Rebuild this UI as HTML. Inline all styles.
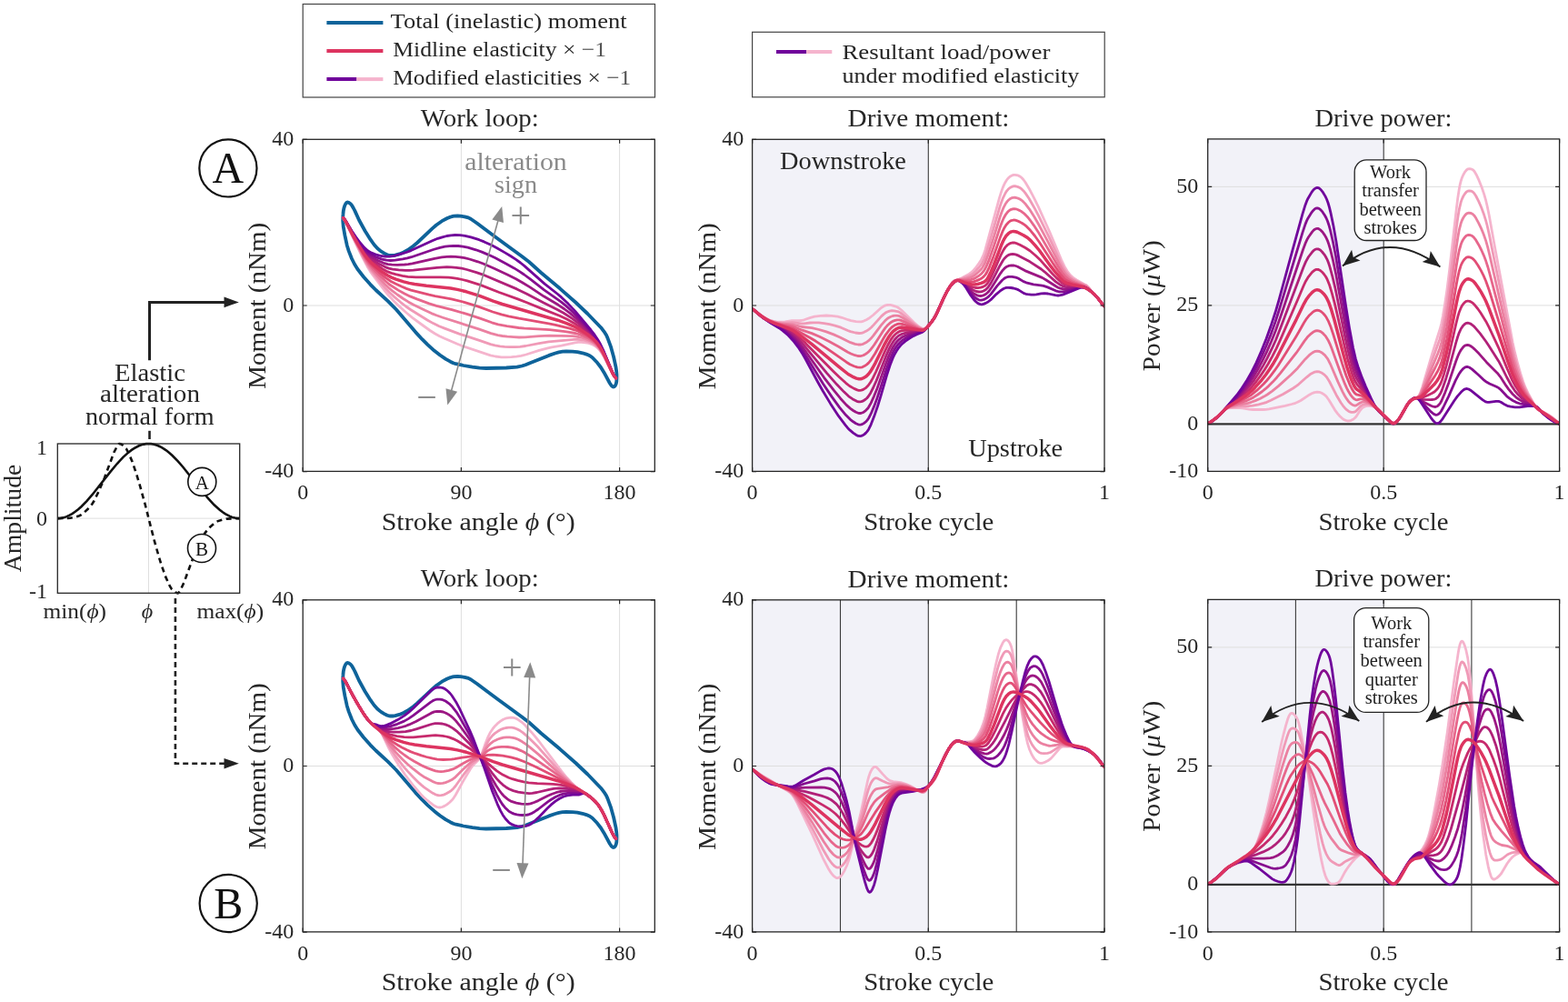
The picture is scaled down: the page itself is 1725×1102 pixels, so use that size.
<!DOCTYPE html><html><head><meta charset="utf-8"><title>Elastic alteration figure</title><style>html,body{margin:0;padding:0;background:#fff;}svg{display:block;}text{font-family:'Liberation Serif', 'DejaVu Serif', serif;}</style></head><body>
<svg width="1725" height="1102" viewBox="0 0 1725 1102">
<rect width="1725" height="1102" fill="#fff"/>
<defs>
<clipPath id="cwla"><rect x="333.2" y="153.3" width="387.1" height="365.1"/></clipPath>
<clipPath id="cwlb"><rect x="333.2" y="659.8" width="387.1" height="365.1"/></clipPath>
<clipPath id="cdma"><rect x="827.6" y="153.3" width="387.4" height="365.1"/></clipPath>
<clipPath id="cdmb"><rect x="827.6" y="659.8" width="387.4" height="365.1"/></clipPath>
<clipPath id="cpwa"><rect x="1328.7" y="152.9" width="386.9" height="365.5"/></clipPath>
<clipPath id="cpwb"><rect x="1328.7" y="659.4" width="386.9" height="365.5"/></clipPath>
</defs>
<g>
<path d="M507.4 153.3V518.4" stroke="#dedede" stroke-width="1"/>
<path d="M681.6 153.3V518.4" stroke="#dedede" stroke-width="1"/>
<path d="M333.2 336H720.3" stroke="#dedede" stroke-width="1"/>
<path d="M377.4 236L377.8 231.8L378.4 228.9L379.2 226.3L380.3 224L381.6 222.6L382.6 222.5L383.7 222.8L385.5 224L387 225.7L388.9 229L390.5 232.1L395 242L401.6 254L407.7 263.7L411.5 269L415.3 273.3L419.1 276.4L422.8 278.6L426 280.2L427.9 280.8L429.8 281L432 281L434.7 280.6L439.3 279.4L444 277.5L448.5 275L454.5 270.7L459 267L475.5 251.4L480 247.5L486.1 243.2L492 240L494.6 238.9L497 238.2L499.4 237.7L503.4 237.5L506.5 237.6L511.2 238.3L515.2 239.4L517.9 240.7L525.1 245.7L548.2 263.1L574.2 282L582 288L595.3 300L616 317.3L633.2 332.5L646.4 345L661.1 360.2L665.4 365.9L667 368.5L668.4 371.6L671.9 381.1L675.1 392.5L677.5 403.6L678.2 408.6L678.5 412.2L678.5 415.6L678.3 419.5L677.7 422.3L676.8 424.2L676 425.1L674.8 425.5L673.9 425.2L672.7 424.1L670.9 421.5L664.5 409.7L661 404L657 398.8L651.7 393.2L648.9 391.2L645.1 389.6L640.8 388.3L635.3 387.1L629.8 386.6L623 386.5L618.9 386.7L614.8 387.4L610.8 388.5L603.9 390.9L584.9 398.6L578.1 401.2L574.1 402.5L568.7 403.6L557 404.5L534.7 405L527.5 404.6L519.7 403.6L510 402L501.6 400.2L498.6 399.2L495.4 397.7L490.4 394.9L484 390.5L477.9 385.8L470.5 379.1L464.5 373.2L457 365.1L436 340.5L427 331.4L413.5 319L407.4 312.8L400 304.5L393.4 296L390 290.5L387 284.5L383.7 276.1L381.7 269.7L379.4 258.9L377.7 249.1L377.2 242.5L377.4 236" fill="none" stroke="#0e639a" stroke-width="3.8" stroke-linejoin="round"/>
<g fill="none" stroke-linejoin="round" stroke-linecap="round" clip-path="url(#cwla)"><path d="M377.6 240L379.1 242.1L381.1 245.8L388.6 262L398.1 281.6L404.1 293.2L407.1 298.1L410.1 302.5L422.6 319L427.6 325L432.6 330.4L439.6 337.2L447.1 344L453.6 349.3L466.1 358.5L473.1 363.5L478.6 367L483.6 369.7L489.1 372.3L503.1 378.3L508.1 380.3L539.6 390.8L545.1 392L551.6 392.8L556.6 392.9L562.6 392.7L568.1 392.1L573.1 391.3L578.6 390L593.1 385.4L602.6 382.8L607.1 381.8L617.6 380.1L632.6 376.9L636.1 376.4L639.6 376.4L644.1 376.8L647.6 377.4L651.1 378.6L654.6 380.5L657.6 382.9L660.1 385.6L662.6 389.2L665.1 393.5L674.1 411.5L676.1 414.5L677.6 416.1" stroke="#f5b4cd" stroke-width="2.8"/><path d="M377.6 239.9L379.1 242L381.1 245.6L390.1 264.5L399.1 282.3L402.6 288.9L405.1 293L408.1 297.4L417.6 309.5L423.6 316.5L428.6 321.8L433.6 326.4L440.6 332.3L446.6 337L451.6 340.5L470.1 352L476.6 355.6L483.1 358.7L489.1 361.1L505.1 367.1L528.1 374.6L539.6 378.6L544.6 379.9L550.1 380.9L555.1 381.4L560.6 381.6L566.6 381.6L572.1 381.3L578.1 380.5L593.1 377.6L603.6 375.9L631.6 373.4L635.1 373.4L638.6 373.7L643.1 374.4L646.6 375.3L650.6 376.9L654.1 378.9L657.1 381.4L660.1 384.8L662.6 388.5L665.1 393L674.1 411.3L676.1 414.4L677.6 416.1" stroke="#f09ab7" stroke-width="2.8"/><path d="M377.6 239.9L379.1 241.9L381.1 245.4L389.1 261.9L400.1 282.9L404.1 289.6L408.1 295.3L412.1 300.1L418.6 307.4L423.6 312.7L427.6 316.5L431.6 319.8L437.1 324L443.6 328.5L449.1 331.9L455.1 335.2L468.1 341.6L474.6 344.6L480.1 346.8L487.1 349.2L526.6 361.9L540.1 366.6L547.6 368.6L552.6 369.5L558.1 370.2L565.1 370.7L571.1 371L577.6 370.8L593.1 369.7L604.6 369.2L629.6 369.7L633.6 370L636.6 370.5L640.6 371.5L645.1 372.9L649.6 374.9L653.1 377L656.6 379.9L659.6 383.4L662.1 387.1L664.6 391.5L674.1 411.2L676.1 414.4L677.6 416" stroke="#eb81a1" stroke-width="2.8"/><path d="M377.6 239.8L379.1 241.8L380.6 244.3L389.1 261.3L398.6 278.8L402.6 285.6L406.1 290.6L409.1 294.2L413.1 298.6L418.6 304.1L423.6 308.8L427.1 311.8L430.1 314L438.1 319.1L445.1 323L451.1 325.9L458.6 328.9L472.1 333.9L480.1 336.3L497.1 340.6L513.6 345.4L528.1 350.1L541.1 354.8L548.1 356.8L557.6 358.7L570.6 360.5L577.1 361.1L591.6 361.8L604.6 362.6L621.6 364.6L633.1 366.5L636.6 367.5L641.1 369.2L646.6 371.6L651.1 374.3L655.1 377.4L658.6 381.2L661.1 384.8L664.1 390L674.1 411.1L676.1 414.3L677.6 416" stroke="#e7678c" stroke-width="2.8"/><path d="M377.6 239.8L379.1 241.7L380.6 244.2L388.6 259.8L396.6 274.1L401.1 281.6L404.6 286.7L407.1 289.8L409.6 292.5L417.1 299.6L424.1 305.4L430.1 309.5L435.1 312.1L442.1 315.3L447.1 317.4L452.1 319.1L472.1 324.2L478.6 325.6L496.6 328.8L510.6 332.3L526.1 337.1L542.1 343L551.6 345.9L559.6 347.8L571.1 350.2L603.6 355.8L611.1 357.3L626.6 361.1L632.1 362.8L636.1 364.3L643.6 368L649.1 371.4L653.6 374.9L657.6 379.1L660.6 383.3L663.1 387.6L666.6 394.6L673.6 410L675.6 413.5L677.6 416" stroke="#e24e76" stroke-width="2.8"/><path d="M377.6 239.7L379.1 241.5L380.6 243.9L388.1 257.8L393.1 266.3L399.6 276.5L403.6 281.9L407.6 286.1L413.1 290.5L420.6 295.7L426.6 298.9L430.6 300.4L435.1 301.7L442.6 303.3L448.6 304.3L457.6 304.8L484.1 304.9L493.6 305.2L498.1 305.6L503.1 306.4L508.6 307.5L514.1 308.8L529.1 313.6L549.1 321.5L569.6 328.9L579.6 332.7L597.6 340.1L615.6 347.3L623.6 351.1L631.6 355.4L638.1 359.6L647.6 366.9L653.1 371.9L657.1 376.6L660.1 380.9L662.6 385.4L666.1 392.6L673.6 409.7L675.6 413.3L677.6 415.9" stroke="#c72a6c" stroke-width="2.8"/><path d="M377.6 239.6L379.1 241.4L380.6 243.7L387.6 256.4L392.6 264.7L398.6 273.7L403.1 279.6L406.6 283.1L410.6 286.2L417.6 290.6L423.6 293.6L427.6 295.1L432.1 296.1L438.6 296.9L446.1 297.4L450.1 297.4L454.6 297.2L480.6 294.3L491.6 293.7L496.6 293.8L502.1 294.3L508.1 295.2L513.6 296.5L524.1 299.6L530.6 301.8L568.6 317.9L579.6 323.2L597.6 332.8L613.1 340.5L619.6 344L629.6 350.4L636.6 355.6L648.1 365.6L652.1 369.6L655.1 373L658.6 377.8L662.1 383.8L666.1 392.2L673.6 409.5L675.6 413.3L677.6 415.8" stroke="#b12178" stroke-width="2.8"/><path d="M377.6 239.6L379.1 241.3L380.6 243.6L387.6 255.9L392.1 263.1L398.1 271.8L402.6 277.4L406.1 280.7L410.1 283.5L416.6 287L422.1 289.3L426.6 290.6L431.1 291.2L437.1 291.3L445.1 291L449.1 290.6L453.6 289.8L478.1 284.3L486.1 282.9L491.6 282.3L496.1 282.1L501.1 282.3L506.1 282.8L511.1 283.7L516.6 285L525.6 287.8L531.6 290L543.1 295L558.6 302.3L567.6 306.8L574.6 310.7L583.1 315.9L598.1 325.8L614.1 335.3L621.1 340L627.6 344.9L633.6 349.9L638.6 354.5L647.6 363.4L651.6 367.6L654.6 371.2L657.6 375.3L660.1 379.4L662.6 384.1L665.1 389.5L673.6 409.4L675.6 413.2L677.6 415.8" stroke="#9c1783" stroke-width="2.8"/><path d="M377.6 239.5L379.1 241.2L380.6 243.4L387.1 254.6L391.6 261.7L397.1 269.2L401.6 274.7L405.1 278L408.6 280.3L414.1 282.9L420.1 285.1L425.1 286.2L429.6 286.5L434.6 286.2L443.1 284.9L448.1 283.9L452.6 282.7L476.6 274.5L484.1 272.3L489.6 271.2L494.6 270.6L499.1 270.4L504.1 270.5L509.1 271.1L514.6 272.2L523.6 274.8L530.1 277.1L537.1 280.1L544.6 283.6L557.1 290.2L565.6 294.9L571.6 298.6L576.6 302L583.6 307.2L598.6 318.9L617.1 331.8L622.1 335.9L628.1 341.2L633.1 346L637.6 350.7L647.1 361.1L651.6 366.3L655.6 371.4L658.6 376L661.1 380.5L664.1 386.7L674.1 410.3L676.1 413.9L677.6 415.8" stroke="#860e8f" stroke-width="2.8"/><path d="M377.6 239.5L379.1 241.1L380.6 243.3L387.1 254.2L391.6 260.9L396.6 267.5L401.1 272.6L404.6 275.7L408.1 277.9L413.1 279.9L419.1 281.5L424.1 282.2L428.6 282.1L433.6 281.3L441.6 279.2L447.1 277.5L452.1 275.6L475.6 264.8L481.6 262.3L486.6 260.8L491.6 259.5L496.1 258.8L500.6 258.5L506.1 258.6L511.6 259.3L518.1 260.9L527.1 263.7L532.6 265.9L541.1 269.8L546.6 272.7L555.1 277.6L561.6 281.5L567.6 285.4L572.6 289L577.1 292.6L599.1 312.1L613.6 323.5L617.6 326.9L625.1 334.1L633.1 342.6L650.1 363L654.1 368.2L657.6 373.5L660.6 378.8L663.6 385L674.1 410.2L676.1 413.8L677.6 415.7" stroke="#70049b" stroke-width="2.8"/><path d="M377.6 239.7L379.1 241.6L380.6 244L388.1 258.3L394.1 268.8L399.6 277.9L403.6 283.6L407.6 288.2L412.1 292.4L419.6 298.4L426.1 302.8L430.6 305.1L435.6 307.1L444.1 309.9L450.1 311.4L456.1 312.5L469.1 314.2L495.6 317L503.1 318.4L513.1 320.8L527.6 325.3L542.6 331.1L552.6 334.5L613.6 352.2L622.6 355.3L631.1 358.8L637.6 362.1L647.1 368.3L652.6 372.7L655.1 375.2L657.1 377.5L660.1 381.7L662.6 386L666.1 393.1L673.6 409.8L675.6 413.4L677.6 415.9" stroke="#dd3460" stroke-width="3.5"/></g>
<rect x="333.2" y="153.3" width="387.1" height="365.1" fill="none" stroke="#262626" stroke-width="1.3"/><path d="M333.2 518.4V513.9M333.2 153.3V157.8" stroke="#262626" stroke-width="1.2"/><path d="M507.4 518.4V513.9M507.4 153.3V157.8" stroke="#262626" stroke-width="1.2"/><path d="M681.6 518.4V513.9M681.6 153.3V157.8" stroke="#262626" stroke-width="1.2"/><path d="M333.2 153.3H337.7M720.3 153.3H715.8" stroke="#262626" stroke-width="1.2"/><path d="M333.2 336H337.7M720.3 336H715.8" stroke="#262626" stroke-width="1.2"/><path d="M333.2 518.7H337.7M720.3 518.7H715.8" stroke="#262626" stroke-width="1.2"/>
</g>
<rect x="827.6" y="153.3" width="193.7" height="365.1" fill="#f2f2f8"/>
<path d="M827.6 336H1215" stroke="#dedede" stroke-width="1"/>
<path d="M1021.3 153.3V518.4" stroke="#3a3a3a" stroke-width="1.1"/>
<g fill="none" stroke-linejoin="round" stroke-linecap="round" clip-path="url(#cdma)"><path d="M827.6 339.8L829.6 341L836.6 346.5L843.1 350.4L845.6 351.7L848.1 352.6L851.1 353.4L854.1 353.9L857.6 354.2L860.6 354.2L863.6 353.9L871.1 352.7L879.1 352.7L881.6 352.5L884.6 351.8L891.6 349.4L896.1 348.2L902.6 347.3L909.1 347L915.1 347.3L921.6 348.2L926.1 349.3L933.1 351.7L936.1 352.6L941.6 353.6L945.6 353.9L947.6 353.8L950.1 353.1L953.1 351.7L955.6 350.3L960.6 346.5L968.6 339.2L972.1 336.8L974.1 335.9L975.6 335.5L977.6 335.3L979.6 335.4L981.6 335.8L984.6 336.8L987.1 337.8L989.1 339L991.6 341L1005.1 354.3L1009.1 357.8L1012.1 359.9L1014.6 361.3L1015.6 361.6L1016.6 361.7L1018.1 361.2L1020.1 359.6L1023 356.4L1025.5 353.3L1028 349.5L1031 343.7L1036.5 331.3L1040 324L1042.5 319.3L1045 315.2L1046 313.1L1047.5 310.7L1048.5 309.6L1050 308.5L1055 307L1058 305.8L1066 301.4L1068.5 299.7L1070.5 297.9L1073 295L1077 289.5L1079.5 285.7L1082 280.4L1084 274.4L1099.5 217.6L1101.5 211.1L1103 206.9L1104.5 203.4L1106 200.4L1107.5 198L1109 196.1L1111 194.3L1113 193.1L1115 192.4L1116.5 192.3L1118.5 192.6L1120.5 193.2L1122.5 194.3L1124 195.5L1126 197.7L1128 200.5L1132 207.2L1138 218.7L1142.5 227.9L1154.5 254.5L1167.5 285.5L1171 292.9L1174 298L1177.5 302.5L1181 305.8L1184.5 308L1193 312.7L1195 313.6L1196.5 315L1199 317.8L1201 321.1L1203.5 323.3L1206 325.9L1209 329.5L1213 334.8L1215 336.8" stroke="#f5b4cd" stroke-width="2.8"/><path d="M827.6 339.8L829.6 341L836.1 346.2L841.6 349.8L846.6 352.3L851.6 353.9L855.6 354.6L859.6 355L862.6 355.1L871.6 354.7L881.6 356L884.6 355.9L891.1 355L894.6 354.8L900.6 354.9L906.6 355.6L912.6 356.6L918.6 358.1L925.1 360.2L932.6 363.5L935.6 364.6L941.1 366L945.1 366.5L947.6 366.3L950.1 365.6L953.1 364.1L956.1 362.1L958.6 360L961.1 357.4L969.6 347.9L972.1 345.6L974.1 344.1L976.1 343L978.6 342.1L981.1 341.7L983.6 341.8L987.6 342.6L990.6 344.1L1006.1 356.6L1011.1 360L1013.6 361.3L1015.1 361.8L1016.6 361.9L1017.6 361.6L1019.6 360.1L1023 356.4L1025.5 353.2L1028 349.5L1030.5 344.8L1036.5 331.3L1040.5 323L1046.5 312.4L1048 310.4L1049.5 309.1L1051 308.3L1059.5 306L1066 303.5L1069 302L1071 300.5L1073.5 298L1077.5 293.5L1080 290.1L1082.5 285.3L1085 278.4L1090 261.9L1100 227.4L1102 221.4L1103.5 217.6L1106 212.5L1107.5 210.1L1109 208.3L1110.5 206.9L1112.5 205.7L1114.5 204.9L1116 204.7L1118 205L1120 205.6L1122 206.5L1124 207.9L1126 209.9L1128 212.4L1132 218.3L1138 228.7L1142.5 237.2L1154 260.7L1166.5 287.8L1170.5 295.4L1173.5 300L1177 304L1179 305.8L1181 307.3L1184 309L1195 314.3L1197 316L1199 318.2L1201 321.1L1203.5 323.3L1206.5 326.5L1213 334.8L1215 336.8" stroke="#f09ab7" stroke-width="2.8"/><path d="M827.6 339.8L829.6 341L836.1 346.3L840.1 349L845.1 351.8L849.6 353.7L853.6 354.8L859.1 355.8L871.6 356.8L882.1 359.5L893.1 360.7L901.1 362.5L909.1 364.9L917.1 367.9L924.1 371L932.1 375.1L935.6 376.7L940.6 378.3L944.1 379L947.1 379L949.6 378.3L952.6 376.8L955.6 374.7L958.1 372.3L960.6 369.4L969.6 357.4L973.6 352.8L975.6 350.9L977.6 349.5L980.1 348.2L982.1 347.5L984.1 347.2L986.6 347.1L988.6 347.4L990.1 347.9L993.1 349.5L1006.1 358L1009.6 360L1014.1 362L1015.6 362.2L1017.1 362L1019.1 360.6L1022 357.5L1025.5 353.2L1028 349.5L1030.5 344.8L1036.5 331.3L1041 322L1046 313.4L1048 310.7L1050 309.1L1052 308.2L1054.5 307.7L1059.5 307.1L1063.5 306.3L1067 305.4L1069.5 304.4L1072.5 302.5L1076 299.5L1079 296.6L1081 294L1083.5 289.4L1087 280.3L1092.5 263.4L1100 239L1102 233.2L1104 228.4L1106.5 223.7L1108 221.6L1109.5 220L1111 218.8L1113 217.7L1114.5 217.3L1116 217.2L1118 217.5L1120 218.1L1122 219L1124 220.3L1126 222.1L1128.5 224.8L1132.5 230.1L1138 238.8L1142.5 246.5L1153 266.1L1165.5 290.4L1169.5 297.4L1172.5 301.7L1176 305.3L1180 308.2L1183 309.8L1189.5 312.5L1195 315L1197 316.6L1199 318.5L1201 321.1L1203.5 323.3L1206 325.9L1209 329.5L1213 334.8L1215 336.8" stroke="#eb81a1" stroke-width="2.8"/><path d="M827.6 339.8L829.6 341L835.1 345.6L839.1 348.5L844.1 351.5L848.1 353.4L852.1 354.8L856.6 356L861.6 357.1L868.6 358.2L871.6 358.9L874.6 360L882.6 363.2L893.1 366.6L901.6 370.3L912.1 375.4L922.6 381.2L932.6 387.3L936.1 389L940.6 390.7L943.6 391.5L946.6 391.6L949.1 391L951.1 390.1L953.6 388.5L955.6 386.9L957.1 385.3L959.6 382.2L962.1 378.7L970.6 365.4L974.1 360.4L976.1 358.1L978.6 355.7L980.6 354.2L982.6 353.1L984.6 352.4L987.1 351.8L989.1 351.8L990.6 352.1L996.1 354.4L1008.1 360.3L1011.6 361.7L1014.1 362.4L1015.6 362.5L1017.1 362.1L1018.1 361.5L1019.6 360.2L1024.5 354.5L1028 349.5L1030.5 344.8L1037 330.2L1041.5 321.1L1046 313.6L1048.5 310.6L1051 308.8L1053.5 308L1055.5 307.9L1060.5 308.2L1064.5 308L1068 307.6L1070.5 306.9L1073.5 305.4L1077.5 302.8L1080 300.7L1082 298.4L1083.5 296.1L1085 293.2L1088 286.1L1093 271.9L1100.5 249.1L1102.5 243.8L1104 240.3L1106.5 235.8L1108 233.8L1109.5 232.2L1111 231.1L1112.5 230.3L1114 229.8L1115.5 229.6L1117.5 229.8L1119.5 230.5L1122 231.6L1124 232.8L1126 234.3L1128.5 236.6L1130.5 238.7L1133 241.8L1137.5 248.1L1142 254.9L1164 292.7L1168.5 299.8L1171.5 303.7L1175 306.9L1179 309.4L1182.5 311L1191.5 314.2L1195 315.7L1197 317.2L1199 318.9L1201 321.1L1203 322.8L1205.5 325.3L1208.5 328.9L1213 334.8L1215 336.8" stroke="#e7678c" stroke-width="2.8"/><path d="M827.6 339.8L829.6 341.1L834.6 345.3L838.1 347.9L842.1 350.5L846.1 352.7L849.6 354.3L853.1 355.6L868.1 359.8L871.6 361L875.1 362.7L891.6 371.7L897.6 375.3L909.1 382.8L931.1 398.2L935.1 400.7L939.6 402.7L943.1 403.9L946.1 404.2L948.6 403.8L951.1 402.6L953.6 400.9L955.6 399.1L957.6 396.7L962.6 389L971.6 372.8L974.6 367.8L978.6 362.5L980.6 360.4L982.1 359.1L984.1 357.8L986.6 356.7L988.6 356.2L990.6 356.1L993.1 356.5L996.6 357.5L1007.6 361.2L1012.1 362.5L1015.1 362.8L1017.1 362.3L1019.1 360.7L1021.5 358.1L1025 353.9L1027.5 350.3L1030.5 344.8L1037 330.2L1042 320.2L1046 313.8L1047.5 311.9L1049 310.4L1051.5 308.8L1052.5 308.4L1054 308.2L1056 308.4L1060.5 309.4L1064.5 310L1068 310.1L1071 309.8L1074 308.9L1077.5 307.4L1080 306L1082 304.4L1084 302.1L1085.5 299.9L1088.5 293.6L1093 281.9L1101 259.4L1103 254.4L1104.5 251.3L1107 247.2L1109.5 244.5L1111 243.3L1112.5 242.6L1115 242L1117 242.2L1119 242.8L1122 244.1L1124.5 245.5L1127 247.2L1129.5 249.2L1133.5 253.3L1138.5 259.5L1143.5 266.5L1158 289L1163 296.4L1168 303.2L1171 306.5L1174 308.8L1177.5 310.6L1182 312.2L1191.5 314.9L1195 316.4L1197 317.7L1199.5 319.7L1205 324.8L1208.5 328.9L1213 334.8L1215 336.8" stroke="#e24e76" stroke-width="2.8"/><path d="M827.6 339.8L829.6 341.1L837.6 347.7L844.6 352.3L850.6 355.4L860.1 359.4L866.6 362.3L870.6 364.6L874.1 366.9L879.6 371.5L886.1 377.4L917.1 408.7L923.1 414.5L930.6 421.3L934.6 424.5L939.6 427.4L943.1 428.9L944.6 429.3L946.1 429.4L947.6 429.2L949.1 428.7L952.1 426.9L955.1 424L957.6 420.5L960.1 416.1L963.6 409L973.6 386.1L976.6 379.8L980.6 372.8L982.6 370.1L984.6 368L986.6 366.3L988.6 365L990.1 364.3L992.1 363.7L995.6 363.3L1000.1 363.2L1013.6 363.7L1016.1 363.2L1018.1 361.8L1020.1 359.8L1024.5 354.5L1026.5 351.8L1028.5 348.6L1031 343.7L1039 326L1042 320.2L1044 316.8L1045.5 314.6L1047.5 312.2L1049.5 310.3L1051 309.2L1053 308.5L1054 308.4L1055.5 308.7L1057.5 309.6L1067.5 314.9L1070.5 316L1073 316.5L1076 316.7L1079 316.2L1081.5 315.4L1084 314L1085.5 312.6L1086.5 311.4L1089.5 306.3L1093 299L1101 280.7L1104 274.9L1106 271.9L1108 269.7L1110 268.3L1112 267.4L1113.5 267L1115.5 267L1117 267.2L1119 267.9L1122 269.3L1128 272.5L1133 275.7L1139.5 281.3L1145 286.6L1157.5 300.7L1162 305.4L1167 310L1170 312.1L1172.5 313.2L1176 314L1181.5 314.7L1188.5 315.2L1191 315.6L1194.5 316.8L1198 318.9L1201.5 321.5L1205 324.8L1208.5 328.9L1213 334.8L1215 336.8" stroke="#c72a6c" stroke-width="2.8"/><path d="M827.6 339.8L829.6 341.1L837.1 347.5L842.6 351.3L849.1 355L858.6 359.5L864.1 362.4L869.1 365.5L873.6 368.9L878.6 373.6L884.1 379.4L909.6 410.3L920.6 422.8L928.6 431.1L933.6 435.8L938.1 438.9L942.6 441.3L944.6 441.8L946.1 441.9L947.6 441.7L949.1 441.2L952.1 439.3L953.6 438L955.1 436.3L957.6 432.4L960.6 426.5L964.1 418.7L974.6 391.9L978.1 383.9L980.1 380L982.1 376.6L984.1 373.8L986.6 371L988.6 369.3L990.1 368.4L992.1 367.4L994.1 366.8L997.6 365.9L1001.6 365.3L1014.1 364.1L1016.1 363.4L1018.1 361.9L1020.1 359.8L1025 353.8L1028.5 348.6L1031 343.7L1038.5 327.1L1041.5 321.1L1043.5 317.6L1045 315.3L1047 312.8L1049 310.7L1051 309.2L1052.5 308.6L1053.5 308.4L1055 308.6L1056.5 309.2L1061 312.1L1068.5 317.9L1071 319.3L1074 320.5L1077 321L1079.5 320.8L1082 320L1084.5 318.5L1087 316L1089.5 312.3L1092.5 306.8L1100 292.2L1103.5 286.3L1105 284.2L1107 282.2L1108.5 281.1L1110.5 280.1L1112 279.6L1114 279.4L1116 279.6L1118 280.1L1121 281.4L1133 287.8L1145.5 296L1149 298.8L1161.5 309.9L1165.5 312.7L1169 314.6L1171.5 315.4L1175 315.8L1190 315.5L1192.5 316L1195.5 317.3L1200 320.3L1204 323.8L1208 328.2L1213 334.8L1215 336.8" stroke="#b12178" stroke-width="2.8"/><path d="M827.6 339.8L829.6 341.1L835.6 346.4L840.6 350.1L848.1 354.8L858.1 360L862.6 362.6L868.6 366.9L873.6 371.2L878.6 376.6L883.6 382.7L906.6 415.3L917.6 429.7L924.6 438.2L931.1 445.4L935.6 449.4L938.6 451.5L941.6 453.3L944.1 454.3L946.1 454.5L947.6 454.3L949.1 453.7L950.6 452.9L952.6 451.3L954.1 449.8L955.6 447.8L958.1 443.4L961.6 435.6L965.1 426.9L974.6 399.9L977.6 392.1L981.1 384.3L982.6 381.5L984.6 378.4L986.6 375.8L989.1 373.3L991.1 371.8L993.6 370.3L997.6 368.6L1002.1 367.2L1006.6 366L1014.6 364.4L1016.6 363.3L1018.6 361.5L1025 353.8L1028.5 348.6L1031 343.7L1039 326L1042 320.2L1044 316.8L1046 313.9L1048 311.7L1050 309.9L1051.5 309L1053 308.5L1054.5 308.5L1056 309.1L1058 310.3L1062 313.6L1069 321L1071 322.6L1073 323.8L1075 324.8L1077 325.4L1078.5 325.5L1080.5 325.3L1082.5 324.6L1084.5 323.5L1086.5 321.8L1088 320.2L1091 316L1100.5 300.8L1103 297.4L1105 295.2L1107 293.6L1109.5 292.4L1112.5 291.9L1115.5 292L1117.5 292.5L1119.5 293.2L1127.5 297.6L1146.5 305.4L1150.5 307.7L1161.5 314.8L1164 316.2L1166.5 317.1L1170 317.9L1173.5 317.9L1177.5 317.5L1187 315.9L1189.5 315.7L1192 315.9L1194.5 316.7L1196.5 317.8L1199.5 319.9L1204 323.8L1208 328.2L1213 334.8L1215 336.8" stroke="#9c1783" stroke-width="2.8"/><path d="M827.6 339.8L829.6 341.1L836.6 347.3L841.1 350.6L848.6 355.3L858.1 360.7L862.6 363.7L868.1 368.1L873.1 373L878.1 378.9L883.1 385.8L905.6 422.3L915.1 436.4L923.6 448.1L930.6 456.6L935.1 461.1L938.6 463.8L941.6 465.7L944.1 466.8L946.1 467.1L947.6 466.9L949.1 466.3L950.6 465.4L952.6 463.7L954.1 462.1L955.6 460L958.1 455.2L961.6 446.9L965.1 437.4L968.6 427L975.1 406.4L978.6 396.5L982.1 388.2L983.6 385.3L985.6 382L987.6 379.3L990.1 376.6L992.6 374.5L995.1 372.8L999.6 370.3L1004.1 368.3L1007.6 367L1014.6 364.8L1016.6 363.5L1018.6 361.6L1025.5 353.1L1028.5 348.6L1031 343.7L1039 326L1042 320.2L1044 316.8L1046 313.9L1048 311.7L1050 309.9L1051.5 309L1053 308.5L1054.5 308.6L1056 309.2L1058 310.5L1060 312.3L1062 314.4L1068 322.5L1071 325.8L1073 327.5L1075 328.9L1077 329.8L1078.5 330.1L1080.5 330L1082.5 329.4L1085 328.1L1087 326.7L1090 323.6L1097 314.4L1102.5 308.2L1104.5 306.5L1106 305.5L1108 304.7L1110 304.3L1113.5 304.3L1117.5 305.1L1120 306L1126 309.6L1129 310.8L1137 312.9L1145 313.8L1148 314.4L1152.5 315.9L1161.5 319.8L1163.5 320.4L1165.5 320.8L1168.5 320.9L1172 320.5L1177.5 319.2L1188 316.1L1190 315.8L1192 315.9L1194 316.5L1196.5 317.8L1199.5 319.9L1202.5 322.4L1207 327L1213 334.8L1215 336.8" stroke="#860e8f" stroke-width="2.8"/><path d="M827.6 339.8L829.6 341.2L835.6 346.5L840.6 350.4L847.6 355L857.1 360.7L861.1 363.6L867.1 368.8L872.6 374.7L878.1 381.8L883.1 389.5L886.1 394.8L899.6 420L905.1 429.8L913.6 443.9L922.6 457.7L930.1 467.7L932.6 470.7L935.1 473.2L938.6 476.1L941.6 478.2L944.1 479.4L946.1 479.7L947.6 479.4L949.1 478.8L950.6 477.9L952.6 476.1L954.1 474.4L955.6 472.2L958.1 467.1L961.6 458.1L965.6 446.5L969.1 435.1L975.6 412.6L979.1 401.8L982.6 392.8L984.1 389.7L986.1 386.2L988.1 383.2L990.6 380.1L993.1 377.6L996.1 375.2L1000.6 372.1L1005.1 369.4L1008.1 367.9L1013.1 365.9L1015.1 364.9L1017.1 363.3L1019.1 361.1L1025.5 353.1L1028.5 348.6L1031 343.7L1038.5 327.1L1041.5 321.1L1043.5 317.6L1045 315.3L1047 312.8L1049 310.7L1051 309.2L1053 308.5L1054.5 308.6L1056.5 309.6L1058.5 311.2L1060.5 313.3L1062 315.3L1068 325L1071 329L1073 331.2L1075 333L1077 334.2L1078.5 334.7L1080 334.8L1082 334.4L1084.5 333.4L1087 332L1090 329.7L1096 323.6L1100 320.2L1104 317.5L1106 316.7L1107.5 316.4L1109.5 316.3L1112 316.5L1115 317L1118 317.8L1120.5 318.9L1126.5 322.6L1128.5 323.3L1130.5 323.7L1134.5 324.1L1137.5 324.1L1140 323.9L1145.5 322.8L1149 322.6L1153 323L1161 324.7L1164 325L1166.5 324.7L1169 324.1L1176.5 321.2L1187.5 316.6L1189.5 316L1191.5 315.9L1193.5 316.2L1196 317.4L1199 319.5L1202.5 322.4L1207 327L1213 334.8L1215 336.8" stroke="#70049b" stroke-width="2.8"/><path d="M827.6 339.8L829.6 341.1L834.6 345.3L838.1 348L842.1 350.7L846.1 353L852.1 355.7L868.1 361.5L871.1 362.8L874.1 364.5L884.1 371.6L892.6 378.1L922.6 403.1L933.1 411.5L937.6 414.1L942.1 416.1L945.1 416.8L946.6 416.8L948.1 416.5L950.6 415.4L953.1 413.7L955.6 411.2L957.6 408.6L960.1 404.5L963.1 399.1L972.6 379.7L975.6 374.1L978.1 370L980.1 367.2L982.1 364.9L984.1 363.2L986.1 361.8L988.1 360.7L990.1 360.2L992.1 360L998.6 360.7L1010.1 362.8L1014.6 363.2L1016.1 362.9L1017.1 362.5L1019.6 360.3L1024.5 354.5L1028 349.5L1031 343.7L1038 328.1L1042.5 319.3L1044.5 316L1046 313.9L1048 311.7L1050 309.9L1051.5 309L1052.5 308.6L1054.5 308.4L1056 308.8L1061 310.8L1064.5 311.9L1068.5 312.7L1072 312.9L1075.5 312.5L1079.5 311.4L1082.5 310.1L1084.5 308.6L1086 306.9L1087 305.3L1090 299.2L1093.5 290.8L1101.5 269.8L1103.5 265.3L1105 262.4L1107 259.3L1109.5 256.7L1111 255.6L1112.5 254.9L1115 254.4L1117 254.7L1119 255.3L1126 258.7L1130.5 261.5L1134 264.6L1139 270.1L1143.5 275.5L1156 292.9L1160.5 298.7L1166.5 305.7L1170 309.2L1172.5 310.8L1175 311.8L1180 313.2L1191 315.5L1194 316.7L1197 318.3L1201 321.1L1204.5 324.3L1208 328.2L1213 334.8L1215 336.8" stroke="#dd3460" stroke-width="3.5"/></g>
<rect x="827.6" y="153.3" width="387.4" height="365.1" fill="none" stroke="#262626" stroke-width="1.3"/><path d="M827.6 518.4V513.9M827.6 153.3V157.8" stroke="#262626" stroke-width="1.2"/><path d="M1021.3 518.4V513.9M1021.3 153.3V157.8" stroke="#262626" stroke-width="1.2"/><path d="M1215 518.4V513.9M1215 153.3V157.8" stroke="#262626" stroke-width="1.2"/><path d="M827.6 153.3H832.1M1215 153.3H1210.5" stroke="#262626" stroke-width="1.2"/><path d="M827.6 336H832.1M1215 336H1210.5" stroke="#262626" stroke-width="1.2"/><path d="M827.6 518.7H832.1M1215 518.7H1210.5" stroke="#262626" stroke-width="1.2"/>
<rect x="1328.7" y="152.9" width="193.5" height="365.5" fill="#f2f2f8"/>
<path d="M1328.7 335.9H1715.6" stroke="#dedede" stroke-width="1"/>
<path d="M1328.7 205.4H1715.6" stroke="#dedede" stroke-width="1"/>
<path d="M1522.2 152.9V518.4" stroke="#3a3a3a" stroke-width="1.1"/>
<path d="M1328.7 466.3H1715.6" stroke="#333" stroke-width="2.2"/>
<g fill="none" stroke-linejoin="round" stroke-linecap="round" clip-path="url(#cpwa)"><path d="M1328.7 465.3L1330.2 464.8L1331.7 464L1335.7 461.3L1340.7 457.2L1347.2 450.8L1348.7 449.8L1350.7 448.9L1354.2 448.5L1364.1 448.6L1367.1 448.9L1374.1 450.2L1378.1 450.5L1389.6 450.5L1392.6 450.3L1396.1 449.8L1413.6 446.4L1421.1 444.5L1425.1 443.3L1427.5 442.3L1431 440.5L1440.5 434.2L1443 432.8L1446 431.6L1449 431.1L1451.5 431.3L1454 432.3L1456.5 433.7L1458.5 435.4L1460 437.2L1462 440L1468.5 450.8L1471.5 454.9L1474 457.7L1476.5 460.1L1478.5 461.5L1480.5 462.4L1482.5 463L1484.5 462.9L1486.5 462.3L1489 461L1490.4 459.8L1491.9 458.2L1496.4 451.3L1498.4 448.9L1499.9 447.8L1501.9 446.9L1503.9 446.3L1505.9 446.2L1508.4 446.4L1510.9 447.2L1513.4 448.3L1515.4 449.6L1518.9 452.7L1527.9 462.3L1529.4 463.6L1530.9 464.6L1532.4 465.2L1533.9 465.1L1535.4 464.5L1536.9 463.2L1538.4 461.5L1540.4 458.6L1546.9 447.4L1549.9 443L1551.4 441.4L1553.4 439.8L1555.3 438.9L1557.8 438.1L1559.3 437.2L1560.8 435.5L1562.3 432.7L1564.8 425.7L1575.8 388.3L1584.3 361.5L1585.8 355.5L1587.3 347.9L1589.8 332.9L1591.8 319.5L1594.3 299.8L1602.3 229.4L1603.8 217.5L1605.3 207.7L1606.3 202.6L1607.3 198.7L1608.3 195.6L1609.8 192.2L1611.8 188.8L1613.3 187L1614.8 185.9L1616.8 185.6L1619.2 186.1L1620.7 187L1622.2 188.7L1624.2 192.2L1627.2 198.7L1630.2 206.2L1632.7 213.6L1634.7 220.7L1636.2 227L1638.2 236.8L1645.2 275.6L1664.2 377.1L1666.7 388.2L1669.7 400L1672.7 410.7L1675.7 420L1678.2 426.4L1681.2 432.7L1688.1 445.5L1690.6 449.2L1691.6 450.3L1693.1 451.3L1698.1 453.3L1704.6 456.9L1708.1 459.4L1714.1 464.5L1715.6 465.5" stroke="#f5b4cd" stroke-width="2.8"/><path d="M1328.7 465.3L1330.2 464.8L1331.7 464.1L1336.2 460.9L1340.7 457.2L1347.2 450.8L1348.7 449.6L1350.7 448.6L1353.7 448L1363.6 446.8L1367.1 446.6L1373.6 446.7L1378.1 446.2L1384.6 444.8L1390.1 443.4L1393.6 442.3L1398.1 440.3L1411.1 433.7L1422.6 427L1426 424.7L1428.5 422.8L1437.5 414.8L1441.5 411.6L1445.5 409.4L1447.5 408.8L1449 408.6L1451.5 408.9L1454.5 410.3L1457 412.1L1459.5 414.8L1462.5 419.5L1470 434.2L1475 442.7L1477.5 446.3L1479.5 448.7L1481.5 450.7L1483.5 452.2L1485 452.9L1486.5 453.3L1488.5 453.4L1489.9 453.2L1491.4 452.4L1492.4 451.6L1496.4 447.1L1498.4 445.6L1499.9 445L1501.9 444.6L1503.9 444.6L1505.9 444.9L1507.9 445.5L1510.4 446.5L1512.9 448L1515.4 449.7L1518.9 452.9L1527.4 461.8L1530.4 464.4L1531.9 465.1L1533.4 465.3L1534.9 464.8L1536.4 463.7L1537.9 462.1L1539.9 459.4L1547.4 446.6L1550.4 442.4L1551.9 440.9L1553.9 439.5L1555.3 438.8L1558.3 437.8L1559.3 437.3L1560.8 435.9L1562.3 433.6L1564.8 427.6L1575.3 397L1583.8 373.4L1585.8 366.2L1587.3 359.1L1589.8 345.2L1591.8 332.9L1594.3 314.7L1602.3 250.2L1603.8 239.3L1605.3 230.3L1607.3 221.9L1608.3 219.1L1609.8 215.8L1611.8 212.7L1613.3 211L1614.8 210.1L1616.3 209.8L1618.3 210.1L1620.2 211.1L1621.7 212.5L1623.7 215.5L1626.7 221.4L1629.7 228.2L1632.2 234.9L1634.7 242.8L1636.2 248.5L1638.2 257.4L1644.2 287.3L1652.2 325.5L1663.7 381.9L1666.2 392.3L1669.2 403.1L1672.2 412.9L1675.2 421.4L1677.7 427.4L1680.7 433.3L1688.1 445.6L1690.6 449.1L1691.6 450L1693.1 451.1L1698.1 453.5L1704.6 457.3L1708.6 460.2L1714.1 464.6L1715.6 465.6" stroke="#f09ab7" stroke-width="2.8"/><path d="M1328.7 465.4L1330.2 464.9L1331.7 464.1L1337.2 460.2L1341.2 456.8L1347.2 450.7L1348.7 449.5L1350.2 448.6L1353.2 447.5L1363.6 445L1373.1 443.3L1376.6 442.3L1381.1 440.6L1386.6 438.2L1390.6 436.1L1394.1 434L1399.6 430.1L1406.1 424.9L1420.1 412.2L1427.5 404.9L1436 394.9L1440 390.9L1442.5 388.9L1445 387.3L1447 386.4L1449 386.1L1451.5 386.5L1454.5 388.1L1457.5 390.6L1460 393.8L1461.5 396.3L1463.5 400.3L1472 420.1L1477 430.8L1479.5 435.5L1481.5 438.7L1483.5 441.4L1485.5 443.4L1487 444.6L1488.5 445.5L1489.9 446L1490.9 446.1L1492.4 445.7L1496.4 443L1498.4 442.2L1499.9 442.1L1501.4 442.2L1503.4 442.6L1505.4 443.3L1507.4 444.3L1509.9 445.8L1515.4 449.8L1518.9 453.1L1527.4 461.9L1530.4 464.4L1531.9 465.2L1533.4 465.4L1534.4 465.1L1535.9 464.2L1537.9 462.2L1539.9 459.4L1547.4 446.6L1550.4 442.4L1551.9 440.8L1553.9 439.4L1555.3 438.7L1558.3 437.8L1559.8 437L1561.3 435.7L1562.8 433.6L1564.8 429.6L1569.3 418.9L1581.8 388.7L1583.8 383.5L1585.8 376.9L1587.3 370.3L1591.8 346.2L1594.3 329.7L1602.3 271L1603.8 261.1L1605.3 252.9L1607.3 245.2L1608.3 242.5L1609.8 239.5L1611.3 237.2L1612.8 235.5L1614.3 234.5L1615.8 234.1L1618.3 234.5L1620.2 235.5L1621.7 236.9L1623.7 239.8L1626.7 245.3L1629.7 251.6L1632.2 257.7L1634.7 264.9L1636.7 271.9L1638.7 280.1L1663.7 389.2L1666.2 398.5L1669.2 408.1L1672.2 416.8L1675.2 424.3L1677.7 429.6L1680.7 434.7L1688.1 445.7L1690.6 448.9L1693.1 451L1698.6 454L1704.6 457.6L1708.6 460.5L1714.1 464.8L1715.6 465.6" stroke="#eb81a1" stroke-width="2.8"/><path d="M1328.7 465.4L1330.2 464.9L1332.2 463.8L1337.7 459.8L1341.7 456.3L1347.2 450.7L1350.2 448.4L1353.2 447L1365.1 442.6L1372.1 440.3L1375.6 438.8L1379.1 436.9L1383.6 434L1388.6 430.5L1392.1 427.7L1395.6 424.6L1400.1 420.1L1404.6 415.2L1408.6 410.4L1426 388.2L1429.5 383.3L1435 375.1L1438.5 370.6L1441.5 367.7L1444.5 365.3L1447 364L1449 363.7L1450.5 363.8L1452 364.3L1453.5 365.1L1455.5 366.7L1458.5 369.9L1461 373.9L1463 378.1L1465 383.1L1475 410.7L1479.5 422.2L1481.5 426.6L1483.5 430.5L1485.5 433.8L1487.5 436.5L1489.5 438.5L1491.4 439.6L1492.9 439.8L1496.4 438.9L1498.4 438.9L1500.9 439.6L1504.4 441.3L1508.4 444L1515.9 450.4L1527.4 461.9L1529.9 464.1L1531.4 465.1L1532.9 465.5L1533.9 465.4L1535.4 464.6L1537.4 462.8L1539.4 460.2L1541.9 456.2L1547.9 445.7L1550.9 441.7L1552.4 440.4L1554.4 439L1555.8 438.4L1558.8 437.6L1560.3 436.9L1561.8 435.8L1563.3 434L1564.8 431.5L1569.3 423L1578.8 404.5L1581.8 398.3L1583.8 393.6L1585.8 387.5L1587.3 381.6L1591.8 359.6L1594.3 344.7L1602.3 291.7L1603.8 282.9L1605.3 275.5L1607.3 268.5L1608.3 266L1609.8 263.2L1611.3 261.1L1612.8 259.5L1614.3 258.6L1615.8 258.4L1617.8 258.7L1619.7 259.6L1621.2 260.8L1623.2 263.3L1626.7 269.2L1629.7 275L1632.2 280.6L1634.7 287.1L1636.7 293.2L1638.7 300.3L1651.2 347.7L1660.2 383.3L1663.7 396.5L1666.2 404.6L1668.7 411.8L1671.7 419.5L1674.7 426.2L1677.2 430.9L1680.2 435.5L1687.6 445.2L1690.6 448.7L1693.6 451.1L1704.1 457.7L1713.6 464.6L1715.6 465.7" stroke="#e7678c" stroke-width="2.8"/><path d="M1328.7 465.5L1330.2 465L1332.2 463.9L1337.7 459.8L1341.7 456.3L1347.7 450.1L1350.2 448.1L1352.7 446.7L1371.1 437.6L1376.1 434.6L1382.6 429.4L1390.1 422.3L1393.6 418.5L1397.6 413.7L1402.1 407.7L1406.1 402L1425.5 370.7L1429 364.8L1434.5 355L1437.5 350.3L1440.5 346.7L1444 343.4L1446.5 341.8L1448 341.3L1449 341.2L1450.5 341.4L1452 341.9L1453.5 342.8L1455.5 344.5L1457.5 346.7L1459 348.8L1461.5 353.4L1464 359.6L1467 368.5L1476.5 399.6L1481 413.2L1485 423.1L1487 427.2L1489 430.5L1490.4 432.4L1491.9 433.6L1493.4 434.2L1496.4 434.8L1498.4 435.5L1500.9 437L1504.4 439.6L1507.4 442.3L1527.9 462.3L1530.4 464.5L1531.9 465.3L1532.9 465.6L1533.9 465.4L1535.4 464.7L1537.4 462.8L1539.4 460.2L1541.9 456.2L1547.9 445.7L1549.4 443.5L1550.9 441.7L1552.9 439.9L1554.8 438.7L1556.3 438.1L1559.8 437.4L1561.3 436.8L1562.8 435.7L1564.3 434.1L1570.3 425.7L1578.3 413.9L1581.3 408.8L1583.8 403.7L1585.8 398.2L1587.3 392.8L1591.8 373L1594.3 359.6L1602.3 312.5L1603.8 304.6L1605.3 298L1607.3 291.7L1608.3 289.5L1609.8 286.9L1611.3 284.9L1612.8 283.5L1613.8 282.9L1615.3 282.6L1617.3 282.9L1619.7 284.1L1621.2 285.3L1623.2 287.7L1626.2 292.2L1629.2 297.4L1632.2 303.4L1634.7 309.2L1638.2 319L1649.7 356.3L1659.7 390.7L1663.7 403.8L1665.7 409.5L1668.2 415.7L1671.2 422.5L1673.7 427.4L1676.7 432.5L1679.7 436.5L1687.6 445.4L1691.1 449L1695.1 452.1L1705.1 458.7L1713.6 464.7L1715.6 465.8" stroke="#e24e76" stroke-width="2.8"/><path d="M1328.7 465.6L1330.2 465.1L1331.7 464.3L1337.2 460.3L1341.7 456.4L1347.7 450L1350.2 447.7L1361.6 439.3L1371.1 431.5L1374.6 428.2L1378.1 424.4L1382.1 419.5L1386.1 414.1L1391.1 406.7L1395.1 400.2L1399.6 392.1L1404.1 383.3L1409.1 372.3L1428 328.8L1434 314.5L1436.5 309.2L1439.5 304.3L1443.5 299.4L1445 298.1L1446.5 297L1448 296.4L1449 296.3L1450.5 296.5L1452.5 297.5L1454.5 299.2L1456.5 301.5L1458.5 304.3L1460 307L1462.5 313.2L1465.5 323.1L1468.5 334.4L1479 380.2L1482.5 394.3L1487 409.7L1489 415.2L1490.4 418.6L1492.9 422.7L1499.9 430.6L1512.9 447.5L1520.9 455.7L1528.9 463.3L1530.9 465L1532.4 465.6L1533.9 465.6L1535.4 464.8L1537.4 462.9L1538.9 461L1540.9 458L1548.4 444.8L1550.4 442.2L1552.9 439.8L1554.8 438.5L1556.8 437.8L1558.8 437.6L1562.3 437.8L1564.3 437.5L1571.3 434.5L1575.8 432.3L1578.3 430.7L1580.8 428.3L1582.8 425.7L1584.8 422L1586.3 418.3L1588.3 412.1L1591.3 401.6L1594.3 389.5L1601.8 356.1L1603.8 348.2L1605.3 343.2L1607.3 338.3L1608.3 336.4L1609.8 334.3L1611.3 332.6L1612.3 331.8L1613.3 331.3L1614.8 331L1616.8 331.4L1618.8 332.3L1620.7 333.7L1622.7 335.8L1625.7 339.5L1628.7 343.7L1634.7 353.4L1638.2 360.1L1649.2 383.6L1658.2 405.8L1663.2 417.3L1667.2 424.8L1671.7 431.6L1674.7 435.3L1678.2 438.7L1690.1 447.7L1697.1 453.7L1709.6 462.5L1713.6 465.1L1715.6 466" stroke="#c72a6c" stroke-width="2.8"/><path d="M1328.7 465.7L1330.7 464.9L1332.7 463.7L1339.2 458.7L1342.2 455.9L1350.2 447.5L1360.7 438.7L1367.1 432.6L1372.1 427.4L1376.1 422.7L1380.1 417.3L1384.6 410.4L1389.6 402.1L1394.1 393.9L1399.1 383.7L1403.6 373.7L1408.6 361.1L1434 293.8L1436.5 287.9L1439.5 282.5L1443.5 277.3L1445 275.7L1446.5 274.6L1448 273.9L1449 273.8L1450.5 274L1452.5 275.1L1454.5 277L1457 280.1L1458.5 282.5L1460 285.3L1461.5 289L1463 293.6L1466 304.6L1469 317.3L1479.5 369.1L1483 385.1L1487.5 402.7L1489.5 409.1L1490.9 413L1492.4 416.1L1494.4 419.5L1512.4 446.7L1514.9 449.7L1518.4 453.4L1529.4 463.8L1530.9 465L1532.4 465.7L1533.9 465.7L1535.4 464.9L1537.4 463L1538.9 461L1540.9 458L1546.9 447.3L1548.9 444L1551.4 441L1554.4 438.7L1556.3 437.8L1558.3 437.6L1559.8 437.8L1563.3 439L1565.3 439.4L1573.8 439.6L1576.3 439.5L1578.3 439.1L1579.8 438.4L1581.3 437.2L1582.8 435.6L1584.8 432.4L1586.3 429.1L1590.8 416.2L1594.3 404.5L1601.8 376.6L1603.8 370L1605.3 365.8L1607.3 361.5L1609.8 357.9L1611.3 356.5L1612.3 355.8L1613.3 355.4L1614.8 355.2L1616.3 355.5L1618.3 356.4L1620.2 357.8L1622.2 359.6L1628.2 366.6L1634.7 375.5L1638.2 380.7L1648.7 397.2L1651.7 402.8L1657.7 415L1662.7 424L1666.2 429.3L1670.2 434.1L1673.2 437.1L1676.7 439.8L1690.1 447.6L1692.1 449.2L1697.6 454.3L1704.1 459.1L1711.6 464.1L1714.1 465.5L1715.6 466.1" stroke="#b12178" stroke-width="2.8"/><path d="M1328.7 465.7L1330.7 464.9L1333.2 463.3L1336.7 460.7L1340.2 457.8L1343.2 454.9L1350.2 447.2L1359.2 438.8L1363.6 434.2L1369.6 427.3L1374.6 420.8L1379.1 414.1L1383.6 406.5L1389.1 396.2L1393.6 386.9L1398.6 375.5L1403.1 364.3L1408.1 350.3L1433.5 274.5L1436.5 266.6L1438 263.4L1439.5 260.7L1443.5 255.1L1445 253.4L1446.5 252.2L1448 251.5L1449 251.3L1450 251.4L1451 251.8L1453 253.2L1455 255.3L1457.5 258.9L1459 261.5L1460.5 264.8L1462 269.1L1463.5 274.2L1466.5 286.4L1469.5 300.6L1480 358.5L1483.5 376.3L1488 396.2L1489.5 401.7L1491.4 407.7L1494.4 414.6L1499.9 424.9L1509.4 441.8L1512.4 446.6L1514.9 449.8L1517.9 453L1530.4 464.7L1531.9 465.6L1533.4 465.9L1534.9 465.3L1536.9 463.5L1538.4 461.8L1540.4 458.8L1547.4 446.4L1549.4 443.3L1550.9 441.5L1552.4 440.1L1554.4 438.6L1555.8 437.9L1557.8 437.5L1559.8 438L1566.3 442.2L1574.3 446.3L1576.8 447.2L1578.3 447.5L1579.8 447.3L1581.3 446.7L1582.8 445.4L1584.3 443.6L1585.8 441L1589.8 431.6L1593.8 420.9L1601.8 397L1603.8 391.8L1605.3 388.4L1607.3 384.8L1609.8 381.6L1611.3 380.3L1612.3 379.8L1614.3 379.3L1615.8 379.6L1617.8 380.5L1619.7 381.8L1621.7 383.6L1627.2 389.1L1635.2 398.2L1647.2 410.2L1650.7 414.6L1656.7 423.9L1659.7 428.1L1664.2 433.5L1667.7 436.8L1671.2 439.4L1674.7 441.4L1687.6 446.2L1690.1 447.5L1692.1 449L1697.6 454.5L1702.6 458.4L1710.1 463.4L1713.6 465.4L1715.6 466.1" stroke="#9c1783" stroke-width="2.8"/><path d="M1328.7 465.8L1330.7 465L1333.7 463L1337.2 460.4L1340.7 457.4L1343.7 454.3L1350.2 447L1361.6 434.7L1367.6 427.3L1373.1 419.5L1378.1 411.3L1382.6 403L1388.1 391.6L1393.1 380.2L1398.1 367.7L1403.1 353.8L1407.6 339.8L1433 255.6L1436 246.6L1437.5 242.9L1439 239.9L1443 233.6L1444.5 231.7L1446 230.2L1447.5 229.2L1449 228.9L1450 229L1451 229.3L1453 230.8L1455 233.2L1457.5 237L1459 239.7L1460.5 243.2L1462 247.7L1463.5 253.2L1466.5 266.3L1469.5 281.7L1480.5 348.5L1485 373.5L1489 392.3L1490.4 398L1492.4 404.3L1495.4 412L1500.4 423.1L1508.9 440.2L1511.9 445.6L1514.4 449.3L1517.4 452.7L1529.9 464.3L1531.4 465.5L1532.9 466L1534.4 465.6L1536.4 464.1L1538.4 461.8L1540.4 458.8L1547.4 446.4L1549.9 442.6L1551.4 440.9L1553.4 439.2L1555.3 438L1556.8 437.5L1557.8 437.4L1558.8 437.6L1560.8 438.9L1566.3 444.8L1574.3 452.9L1576.8 455L1578.3 455.9L1579.8 456.3L1581.3 456.1L1582.8 455.3L1583.8 454.4L1585.3 452.5L1587.8 448L1593.8 435.6L1601.3 418.4L1604.8 411.8L1607.3 408.1L1609.8 405.3L1611.8 403.9L1613.8 403.4L1614.8 403.5L1616.3 404L1619.2 405.9L1626.7 412.5L1632.7 418.2L1635.2 420.1L1638.7 422L1646.2 425.2L1648.7 426.6L1651.2 428.8L1657.7 435.8L1660.7 438.2L1664.2 440.5L1668.2 442.6L1671.7 443.8L1686.6 446.2L1688.6 446.7L1690.1 447.3L1692.1 448.8L1697.6 454.7L1703.1 459.1L1706.6 461.6L1710.1 463.7L1713.6 465.5L1715.6 466.2" stroke="#860e8f" stroke-width="2.8"/><path d="M1328.7 465.8L1330.7 465L1334.2 462.7L1338.2 459.6L1341.7 456.4L1345.7 452.1L1360.7 434.5L1366.1 427.1L1372.1 417.7L1377.1 408.9L1382.1 398.8L1387.6 386.2L1393.1 372.4L1398.1 358.6L1403.1 343.3L1407.1 329.6L1422.1 274.6L1433 235.2L1436 225.4L1437.5 221.4L1439 218.2L1443 211.4L1444.5 209.4L1446 207.8L1447.5 206.8L1449 206.4L1450 206.5L1451 206.9L1453 208.5L1455.5 211.7L1458 215.9L1459.5 219L1461 223L1462.5 228.2L1464 234.4L1467 248.7L1470 265.8L1480.5 335.9L1484.5 360.6L1488.5 382.3L1491.4 394.9L1494.4 404.6L1498.4 415.4L1502.4 425.1L1508.4 438.4L1510.9 443.6L1513.4 447.9L1515.9 451.2L1518.9 454.3L1530.9 465.2L1531.9 465.8L1532.9 466L1534.4 465.7L1535.4 465.1L1536.9 463.6L1539.4 460.4L1541.9 456.3L1547.4 446.3L1549.9 442.6L1551.9 440.4L1554.4 438.5L1556.3 437.5L1557.8 437.3L1558.8 437.6L1559.8 438.3L1561.8 440.5L1573.8 458.8L1576.8 462.8L1578.3 464.3L1579.8 465.3L1581.3 465.6L1582.3 465.4L1583.3 464.9L1584.3 464.1L1586.3 461.7L1599.8 440.7L1603.3 435.9L1607.3 431.3L1609.8 429L1611.8 427.8L1613.8 427.5L1615.8 428.1L1617.8 429.2L1631.2 439.9L1633.2 441.2L1635.2 442.1L1636.7 442.3L1638.2 442.3L1645.7 441.3L1648.7 441.4L1651.2 442.3L1655.7 445.1L1658.2 446.3L1661.7 447.2L1666.7 447.8L1671.7 447.9L1680.7 446.7L1687.1 446.6L1689.6 447L1690.6 447.4L1692.1 448.6L1697.6 454.8L1703.6 459.8L1707.1 462.3L1710.1 464L1713.1 465.5L1715.6 466.3" stroke="#70049b" stroke-width="2.8"/><path d="M1328.7 465.5L1330.2 465L1332.2 463.9L1338.2 459.5L1341.7 456.3L1347.7 450.1L1350.7 447.6L1362.6 440.2L1370.1 435.3L1374.1 432.3L1377.1 429.7L1380.6 426.2L1388.1 417.8L1392.6 412L1396.6 406.3L1401.1 399.2L1405.1 392.3L1426 351.6L1434.5 334.1L1437 329.6L1440 325.4L1443.5 321.6L1445 320.4L1446.5 319.4L1448 318.9L1449 318.7L1450.5 318.9L1452.5 319.8L1454 321L1456 322.9L1458 325.4L1459.5 327.8L1462 333.1L1464.5 340.3L1468 352L1478 390.1L1482 404.2L1484.5 411.8L1486.5 417.2L1488.5 421.8L1489.9 424.7L1491.4 426.9L1492.9 428.4L1497.9 431.8L1502.4 435.9L1505.9 439.6L1513.4 448.1L1529.4 463.8L1530.9 464.9L1532.4 465.6L1533.4 465.6L1534.9 465.1L1536.9 463.4L1539.4 460.3L1541.9 456.2L1547.9 445.7L1549.4 443.4L1550.9 441.6L1552.9 439.9L1555.3 438.4L1557.3 437.8L1561.8 437.1L1563.3 436.5L1564.8 435.4L1570.8 429.8L1577.8 422.8L1580.8 419L1583.3 414.9L1585.3 410.3L1586.8 405.8L1591.3 388.5L1594.3 374.6L1602.3 333.3L1603.8 326.4L1605.3 320.6L1607.3 315L1608.3 313L1609.8 310.6L1611.3 308.8L1612.8 307.5L1613.8 307L1615.3 306.8L1617.3 307.2L1619.7 308.5L1621.2 309.7L1623.2 312L1626.2 316.2L1629.2 320.9L1632.2 326.3L1634.7 331.3L1638.2 339.6L1649.2 369.1L1658.7 397.2L1663.7 411.1L1665.7 415.8L1668.2 421.1L1670.7 425.8L1673.2 430L1676.2 434.3L1679.7 438.2L1692.6 450.1L1699.6 455.3L1713.1 464.6L1715.6 465.9" stroke="#dd3460" stroke-width="3.5"/></g>
<rect x="1328.7" y="152.9" width="386.9" height="365.5" fill="none" stroke="#262626" stroke-width="1.3"/><path d="M1328.7 518.4V513.9M1328.7 152.9V157.4" stroke="#262626" stroke-width="1.2"/><path d="M1522.2 518.4V513.9M1522.2 152.9V157.4" stroke="#262626" stroke-width="1.2"/><path d="M1715.6 518.4V513.9M1715.6 152.9V157.4" stroke="#262626" stroke-width="1.2"/><path d="M1328.7 205.4H1333.2M1715.6 205.4H1711.1" stroke="#262626" stroke-width="1.2"/><path d="M1328.7 335.9H1333.2M1715.6 335.9H1711.1" stroke="#262626" stroke-width="1.2"/><path d="M1328.7 466.3H1333.2M1715.6 466.3H1711.1" stroke="#262626" stroke-width="1.2"/><path d="M1328.7 518.5H1333.2M1715.6 518.5H1711.1" stroke="#262626" stroke-width="1.2"/>
<text x="527.8" y="138.7" font-size="26.4" text-anchor="middle" fill="#262626" textLength="130" lengthAdjust="spacingAndGlyphs">Work loop:</text>
<text x="1021.5" y="139" font-size="26.4" text-anchor="middle" fill="#262626" textLength="178" lengthAdjust="spacingAndGlyphs">Drive moment:</text>
<text x="1522" y="138.5" font-size="26.4" text-anchor="middle" fill="#262626" textLength="151" lengthAdjust="spacingAndGlyphs">Drive power:</text>
<text x="323.3" y="159.8" font-size="24" text-anchor="end" fill="#262626">40</text>
<text x="818.2" y="159.8" font-size="24" text-anchor="end" fill="#262626">40</text>
<text x="323.3" y="342.5" font-size="24" text-anchor="end" fill="#262626">0</text>
<text x="818.2" y="342.5" font-size="24" text-anchor="end" fill="#262626">0</text>
<text x="323.3" y="525.2" font-size="24" text-anchor="end" fill="#262626">-40</text>
<text x="818.2" y="525.2" font-size="24" text-anchor="end" fill="#262626">-40</text>
<text x="1318.2" y="211.9" font-size="24" text-anchor="end" fill="#262626">50</text>
<text x="1318.2" y="342.4" font-size="24" text-anchor="end" fill="#262626">25</text>
<text x="1318.2" y="472.8" font-size="24" text-anchor="end" fill="#262626">0</text>
<text x="1318.2" y="525" font-size="24" text-anchor="end" fill="#262626">-10</text>
<text x="333.2" y="549.2" font-size="24" text-anchor="middle" fill="#262626">0</text>
<text x="507.4" y="549.2" font-size="24" text-anchor="middle" fill="#262626">90</text>
<text x="681.6" y="549.2" font-size="24" text-anchor="middle" fill="#262626">180</text>
<text x="827.6" y="549.2" font-size="24" text-anchor="middle" fill="#262626">0</text>
<text x="1021.3" y="549.2" font-size="24" text-anchor="middle" fill="#262626">0.5</text>
<text x="1215" y="549.2" font-size="24" text-anchor="middle" fill="#262626">1</text>
<text x="1328.7" y="549.2" font-size="24" text-anchor="middle" fill="#262626">0</text>
<text x="1522.2" y="549.2" font-size="24" text-anchor="middle" fill="#262626">0.5</text>
<text x="1715.6" y="549.2" font-size="24" text-anchor="middle" fill="#262626">1</text>
<text x="526.2" y="582.6" font-size="26.4" text-anchor="middle" fill="#262626" textLength="213" lengthAdjust="spacingAndGlyphs">Stroke angle <tspan font-style="italic">ϕ</tspan> (°)</text>
<text x="1021.8" y="582.6" font-size="26.4" text-anchor="middle" fill="#262626" textLength="143" lengthAdjust="spacingAndGlyphs">Stroke cycle</text>
<text x="1522" y="582.6" font-size="26.4" text-anchor="middle" fill="#262626" textLength="143" lengthAdjust="spacingAndGlyphs">Stroke cycle</text>
<text x="292" y="336.3" font-size="26.4" text-anchor="middle" fill="#262626" transform="rotate(-90 292 336.3)" textLength="183" lengthAdjust="spacingAndGlyphs">Moment (nNm)</text>
<text x="787" y="336.8" font-size="26.4" text-anchor="middle" fill="#262626" transform="rotate(-90 787 336.8)" textLength="183" lengthAdjust="spacingAndGlyphs">Moment (nNm)</text>
<text x="1276" y="336.2" font-size="26.4" text-anchor="middle" fill="#262626" transform="rotate(-90 1276 336.2)" textLength="144" lengthAdjust="spacingAndGlyphs">Power (<tspan font-style="italic">μ</tspan>W)</text>
<g>
<path d="M507.4 659.8V1024.9" stroke="#dedede" stroke-width="1"/>
<path d="M681.6 659.8V1024.9" stroke="#dedede" stroke-width="1"/>
<path d="M333.2 842.5H720.3" stroke="#dedede" stroke-width="1"/>
<path d="M377.4 742.5L377.8 738.3L378.4 735.4L379.2 732.8L380.3 730.5L381.6 729.1L382.6 729L383.7 729.3L385.5 730.5L387 732.2L388.9 735.5L390.5 738.6L395 748.5L401.6 760.5L407.7 770.2L411.5 775.5L415.3 779.8L419.1 782.9L422.8 785.1L426 786.7L427.9 787.3L429.8 787.5L432 787.5L434.7 787.1L439.3 785.9L444 784L448.5 781.5L454.5 777.2L459 773.5L475.5 757.9L480 754L486.1 749.7L492 746.5L494.6 745.4L497 744.7L499.4 744.2L503.4 744L506.5 744.1L511.2 744.8L515.2 745.9L517.9 747.2L525.1 752.2L548.2 769.6L574.2 788.5L582 794.5L595.3 806.5L616 823.8L633.2 839L646.4 851.5L661.1 866.7L665.4 872.4L667 875L668.4 878.1L671.9 887.6L675.1 899L677.5 910.1L678.2 915.1L678.5 918.7L678.5 922.1L678.3 926L677.7 928.8L676.8 930.7L676 931.6L674.8 932L673.9 931.7L672.7 930.6L670.9 928L664.5 916.2L661 910.5L657 905.3L651.7 899.7L648.9 897.7L645.1 896.1L640.8 894.8L635.3 893.6L629.8 893.1L623 893L618.9 893.2L614.8 893.9L610.8 895L603.9 897.4L584.9 905.1L578.1 907.7L574.1 909L568.7 910.1L557 911L534.7 911.5L527.5 911.1L519.7 910.1L510 908.5L501.6 906.7L498.6 905.7L495.4 904.2L490.4 901.4L484 897L477.9 892.2L470.5 885.6L464.5 879.7L457 871.6L436 847L427 837.9L413.5 825.5L407.4 819.3L400 811L393.4 802.5L390 797L387 791L383.7 782.6L381.7 776.2L379.4 765.4L377.7 755.6L377.2 749L377.4 742.5" fill="none" stroke="#0e639a" stroke-width="3.8" stroke-linejoin="round"/>
<g fill="none" stroke-linejoin="round" stroke-linecap="round" clip-path="url(#cwlb)"><path d="M377.6 746.2L379.1 748.1L380.6 750.5L387.6 763.9L392.6 772.8L398.6 782.8L402.1 788.1L404.6 791.4L407.6 794.7L409.6 796.1L412.6 796.9L413.6 797.5L415.1 799L416.6 801.1L421.1 808.9L427.6 822.6L431.6 830.1L438.1 840.8L445.6 852L455.6 865L463.1 873.7L466.1 876.7L469.6 879.8L475.1 884.2L478.1 886.3L480.6 887.5L482.6 888L484.6 888L486.6 887.5L489.1 886.4L491.6 884.9L494.6 882.5L497.1 880.1L499.1 877.6L501.1 874.5L509.1 859.9L517.6 845.5L520.6 841.4L526.1 835.9L528.1 833.2L530.1 828.9L534.1 817.5L536.6 811.2L539.1 806.1L542.1 801.5L544.6 798.4L547.1 795.9L550.6 793.1L553.6 791.2L556.1 790.2L558.6 789.6L562.1 789.2L565.1 789.4L567.1 790L569.1 790.9L574.1 794.3L577.6 797.6L584.1 804.7L588.6 809.9L593.1 815.5L618.1 848.7L623.6 855.3L628.6 860.7L638.1 870L640.1 871.2L644.1 872.8L647.1 874.8L652.1 878.8L656.6 883.4L659.6 887.4L662.6 892.5L666.1 899.6L673.6 916.3L675.6 919.9L677.6 922.4" stroke="#f5b4cd" stroke-width="2.8"/><path d="M377.6 746.2L379.1 748.1L380.6 750.5L390.6 769.3L396.6 779.5L401.1 786.6L404.6 791.4L407.6 794.7L409.6 796.2L413.1 797.7L414.1 798.4L415.6 800L420.6 807.5L427.1 819.2L430.1 824.2L434.6 830.8L440.1 838.2L444.6 843.8L448.6 848.4L454.6 854.7L460.1 860.2L463.6 863.4L466.6 865.8L476.1 872.3L478.6 873.6L481.1 874.5L483.1 874.8L485.6 874.7L488.1 874.1L490.6 873L494.1 871L496.6 869.3L498.6 867.4L501.1 864.5L509.1 853.2L517.6 842.1L520.6 839L526.1 835L528.1 832.9L530.1 829.7L534.1 820.8L536.6 816L539.1 812.1L542.1 808.6L544.6 806.4L547.6 804.3L551.1 802.3L554.1 801.1L556.6 800.5L559.6 800.2L563.1 800.2L565.6 800.6L568.6 801.7L572.1 803.6L575.1 805.6L578.6 808.6L586.1 815.7L591.6 821.3L617.1 849.9L626.1 859.1L637.6 869.4L639.6 870.7L644.1 872.7L646.6 874.4L651.1 877.9L655.1 881.7L658.6 886L662.1 891.6L666.1 899.6L673.6 916.3L675.6 919.9L677.6 922.4" stroke="#f09ab7" stroke-width="2.8"/><path d="M377.6 746.2L379.1 748.1L380.6 750.5L388.6 765.7L395.1 777L400.6 785.9L404.6 791.4L407.1 794.2L408.6 795.6L413.1 798.2L415.6 800.5L420.1 806.3L427.1 816.9L430.1 821L435.6 827.6L442.1 834.5L448.1 840.2L454.6 845.7L461.6 851.1L467.1 854.8L476.1 859.6L479.1 860.8L481.6 861.5L484.1 861.7L487.1 861.4L490.1 860.6L493.6 859.3L497.1 857.6L500.1 855.4L510.1 845.5L518.1 838.4L521.1 836.4L526.1 834.1L528.1 832.7L530.1 830.4L534.1 824.2L536.6 820.8L539.1 818.2L542.1 815.8L544.6 814.4L547.6 813L551.1 811.9L554.1 811.2L557.1 810.9L560.6 810.9L564.1 811.3L566.6 811.9L570.1 813.3L574.6 815.8L578.1 818.2L583.6 822.4L592.6 829.9L617.1 852.4L625.1 859.3L638.1 869.6L640.1 870.8L644.1 872.7L647.6 875.1L651.1 877.9L654.1 880.7L658.1 885.3L660.1 888.2L662.1 891.6L666.1 899.6L673.6 916.3L675.6 919.9L677.6 922.4" stroke="#eb81a1" stroke-width="2.8"/><path d="M377.6 746.2L379.1 748.1L380.6 750.5L388.6 765.7L396.1 778.7L401.1 786.6L405.1 792L408.6 795.6L413.1 798.7L415.6 800.9L420.1 806L428.1 815.7L434.1 821.6L439.6 826.3L445.1 830.5L449.6 833.6L455.6 837.3L465.1 842.4L470.1 844.6L476.1 846.9L479.1 847.8L482.1 848.4L485.1 848.6L488.1 848.3L493.6 847.3L498.1 845.9L501.6 844.2L510.1 839.2L517.1 835.6L520.6 834.3L526.1 833.2L528.1 832.5L530.1 831.2L534.1 827.6L536.6 825.6L539.1 824.2L542.1 823L545.1 822.2L548.1 821.7L552.1 821.3L555.1 821.3L558.6 821.5L563.1 822.1L566.1 822.8L568.6 823.6L573.1 825.6L576.6 827.3L589.1 835.1L608.1 848.3L621.1 857.7L637.6 869L639.6 870.3L643.6 872.4L646.1 874.1L652.1 878.8L654.6 881.2L657.1 884L659.1 886.7L661.1 889.8L665.6 898.5L673.6 916.3L675.6 919.9L677.6 922.4" stroke="#e7678c" stroke-width="2.8"/><path d="M377.6 746.2L379.1 748.1L380.6 750.5L388.6 765.7L395.1 777L400.6 785.9L404.6 791.4L408.6 795.7L415.1 800.9L427.1 812.2L431.6 815.6L438.1 819.7L443.1 822.6L447.6 824.8L451.6 826.6L457.1 828.7L463.6 830.9L469.1 832.5L476.1 834.2L481.1 835.1L487.6 835.5L496.6 835.1L500.1 834.6L508.6 833.1L514.6 832.3L520.1 831.9L528.1 832.2L530.1 831.9L536.6 830.4L542.1 830.2L546.6 830.5L553.1 831.2L562.1 832.9L568.6 834.6L577.6 838L589.1 843.3L608.1 852.7L629.1 863.8L633.6 866.3L644.1 872.7L647.6 875.1L651.1 877.9L654.1 880.7L656.6 883.4L659.1 886.7L661.1 889.8L665.6 898.5L673.6 916.3L675.6 919.9L677.6 922.4" stroke="#e24e76" stroke-width="2.8"/><path d="M377.6 746.2L379.1 748.1L380.6 750.5L388.1 764.8L393.6 774.5L399.1 783.6L403.1 789.5L406.1 793.1L409.1 796.1L416.6 801.7L420.1 803.9L425.1 806.4L430.1 808.2L436.6 809.6L444.6 810.7L449.6 810.9L454.6 810.8L475.6 808.8L479.1 808.7L487.1 809.3L490.6 810L494.1 810.9L498.6 812.6L503.1 814.8L507.6 817.5L516.6 823.2L521.1 826.5L528.6 832.4L541.1 843.4L546.6 847.8L553.1 852.1L559.6 855.3L563.6 856.7L569.6 858.4L576.1 859.9L581.6 860.9L591.1 861.7L608.6 862.3L613.6 862.8L619.1 863.7L624.1 864.9L630.1 866.7L633.6 868L641.1 871.1L645.6 873.7L651.1 877.9L655.1 881.7L658.6 886L661.1 889.8L664.1 895.4L674.1 917.3L676.1 920.7L677.6 922.4" stroke="#c72a6c" stroke-width="2.8"/><path d="M377.6 746.2L379.1 748.1L380.6 750.5L388.1 764.8L393.1 773.6L398.6 782.8L402.6 788.8L405.6 792.6L408.6 795.6L410.1 796.8L417.1 801L421.6 803.2L426.6 804.5L432.1 805.1L439.1 805.2L446.1 804.6L452.1 803.5L458.6 801.7L474.6 796.5L478.6 795.7L482.1 795.6L486.6 796L490.1 796.9L493.6 798.3L498.1 800.9L503.1 804.7L506.6 808L516.6 818.1L521.1 823.2L529.1 833.3L533.1 838.6L541.1 849.8L546.6 856.6L550.1 860.3L553.1 863.1L556.6 865.7L560.1 867.8L564.6 869.6L570.1 871.1L577.1 872.2L582.1 872.6L585.6 872.3L590.6 871.5L604.1 868.3L609.1 867.4L614.6 866.9L620.6 867L625.6 867.6L632.1 869L636.6 870.5L641.6 871.7L643.6 872.5L645.6 873.7L650.1 877.1L653.6 880.2L656.6 883.4L659.6 887.4L662.1 891.6L664.6 896.4L674.1 917.3L676.1 920.7L677.6 922.4" stroke="#b12178" stroke-width="2.8"/><path d="M377.6 746.2L379.1 748.1L380.6 750.5L389.6 767.6L399.6 784.4L402.6 788.8L405.1 792L407.6 794.7L409.6 796.3L414.1 798.4L417.6 800.3L421.1 801.5L423.6 801.9L426.6 802L433.6 801.4L438.1 800.6L442.6 799.5L446.6 798.3L450.1 796.9L457.6 793.4L474.1 784.4L477.6 782.9L480.6 782.4L484.6 782.5L487.6 783L490.6 784.2L493.6 785.9L496.1 787.6L498.6 789.8L501.6 792.9L505.6 797.8L516.1 812.3L521.1 819.9L529.1 833.8L533.1 840.9L540.6 855.2L545.6 863.8L549.1 869L552.1 873L555.1 876.2L558.1 878.7L560.1 880.1L562.6 881.4L568.1 883.2L573.6 884.1L577.6 884.4L580.6 884.3L583.6 883.8L587.6 882.5L592.1 880.6L602.6 875.3L606.6 873.5L611.6 871.7L616.1 870.5L621.1 869.9L625.6 869.9L631.1 870.5L636.6 871.7L641.1 871.9L643.1 872.4L644.6 873.1L646.6 874.4L652.1 878.8L656.1 882.8L659.1 886.7L661.6 890.7L664.6 896.4L674.1 917.3L676.1 920.7L677.6 922.4" stroke="#9c1783" stroke-width="2.8"/><path d="M377.6 746.2L379.1 748.1L380.6 750.5L388.1 764.8L394.1 775.3L399.6 784.4L403.6 790.1L407.1 794.2L409.1 795.9L410.6 796.6L414.1 797.7L417.6 799.3L419.1 799.7L421.1 800L423.6 799.9L429.1 798.9L437.1 796.3L444.6 793.1L449.1 790.6L454.6 786.9L473.6 772.4L475.6 771.1L477.6 770L479.1 769.5L480.6 769.2L484.1 769.2L487.1 769.7L490.1 771L494.1 773.8L497.6 777.3L502.1 783.1L506.1 789.5L517.1 808.9L521.1 816.7L532.1 841L541.6 863.7L546.6 874.1L550.1 880.5L552.6 884.5L555.6 888.2L559.1 891.6L561.1 893.1L563.1 894.1L565.6 895.1L568.6 895.9L571.6 896.3L574.6 896.5L578.6 896.4L581.1 896L584.1 894.9L588.1 892.7L592.1 890L602.6 881.9L606.1 879.5L611.1 876.5L615.6 874.4L620.6 872.9L624.6 872.3L630.6 872.3L636.6 872.9L641.1 872.3L643.1 872.5L644.6 873.1L646.1 874.1L652.1 878.8L656.1 882.8L659.1 886.7L661.6 890.7L664.6 896.4L674.1 917.3L676.1 920.7L677.6 922.4" stroke="#860e8f" stroke-width="2.8"/><path d="M377.6 746.2L379.1 748.1L380.6 750.5L388.6 765.7L394.6 776.2L400.1 785.1L404.1 790.8L407.1 794.2L409.1 795.8L410.6 796.4L413.6 796.8L417.1 798.2L419.1 798.6L421.1 798.5L423.1 798.1L425.6 797.4L429.1 795.9L437.6 791.6L445.1 786.9L449.6 783.4L454.6 779L473.6 760.2L475.6 758.5L477.6 757.1L480.1 756.1L483.1 755.9L486.6 756.4L489.1 757.4L491.1 758.8L493.1 760.5L495.1 762.5L497.1 765L501.6 771.9L505.6 779.4L517.1 804L520.6 812.2L532.1 842.9L541.6 870.3L547.1 884.1L550.6 891.6L553.1 896.2L556.1 900.5L559.6 904.3L561.6 905.8L563.6 906.9L566.1 907.8L569.1 908.6L571.6 908.8L575.1 908.7L578.6 908.3L581.1 907.7L584.1 906.2L588.1 903L592.1 899.4L602.1 889.1L606.1 885.2L611.1 881.1L615.6 878.2L620.1 876L624.1 874.8L630.1 874.1L636.6 874.2L641.1 872.7L643.1 872.6L644.1 872.9L645.6 873.7L651.6 878.3L655.6 882.3L659.1 886.7L661.6 890.7L664.6 896.4L674.1 917.3L676.1 920.7L677.6 922.4" stroke="#70049b" stroke-width="2.8"/><path d="M377.6 746.2L379.1 748.1L380.6 750.5L388.1 764.8L394.1 775.3L399.6 784.4L403.6 790.1L407.6 794.7L412.1 798.9L419.6 804.9L426.1 809.3L430.6 811.6L435.6 813.6L444.1 816.4L450.1 817.9L456.1 819L469.1 820.7L495.6 823.5L503.1 824.9L513.1 827.3L527.6 831.8L542.6 837.6L552.6 841L613.6 858.7L622.6 861.8L631.1 865.3L637.6 868.6L647.1 874.8L652.6 879.2L655.1 881.7L657.1 884L660.1 888.2L662.6 892.5L666.1 899.6L673.6 916.3L675.6 919.9L677.6 922.4" stroke="#dd3460" stroke-width="3.5"/></g>
<rect x="333.2" y="659.8" width="387.1" height="365.1" fill="none" stroke="#262626" stroke-width="1.3"/><path d="M333.2 1024.9V1020.4M333.2 659.8V664.3" stroke="#262626" stroke-width="1.2"/><path d="M507.4 1024.9V1020.4M507.4 659.8V664.3" stroke="#262626" stroke-width="1.2"/><path d="M681.6 1024.9V1020.4M681.6 659.8V664.3" stroke="#262626" stroke-width="1.2"/><path d="M333.2 659.8H337.7M720.3 659.8H715.8" stroke="#262626" stroke-width="1.2"/><path d="M333.2 842.5H337.7M720.3 842.5H715.8" stroke="#262626" stroke-width="1.2"/><path d="M333.2 1025.2H337.7M720.3 1025.2H715.8" stroke="#262626" stroke-width="1.2"/>
</g>
<rect x="827.6" y="659.8" width="193.7" height="365.1" fill="#f2f2f8"/>
<path d="M827.6 842.5H1215" stroke="#dedede" stroke-width="1"/>
<path d="M924.5 659.8V1024.9" stroke="#3a3a3a" stroke-width="1.1"/>
<path d="M1021.3 659.8V1024.9" stroke="#3a3a3a" stroke-width="1.1"/>
<path d="M1118.2 659.8V1024.9" stroke="#3a3a3a" stroke-width="1.1"/>
<g fill="none" stroke-linejoin="round" stroke-linecap="round" clip-path="url(#cdmb)"><path d="M827.6 846.2L830.1 847.5L839.1 853.5L846.1 857.5L854.6 862.8L866.6 869.8L869.1 871.6L871.6 874.1L874.1 877.8L877.1 883.4L893.6 917.6L905.1 943.3L911.1 954.9L914.6 960.4L916.6 962.8L918.1 964.2L919.6 965.2L920.6 965.6L921.6 965.6L923.1 965.1L924.1 964.4L925.6 962.9L927.1 960.9L928.6 958.4L931.6 952L934.1 944.9L936.1 937.4L940.6 918L944.6 903.6L946.6 895.7L954.6 858.5L955.6 854.8L957.1 850.4L958.1 848.1L959.6 845.5L961.1 843.9L962.1 843.3L963.1 843.3L964.1 843.8L966.1 845.6L971.1 851.4L975.6 856.1L977.6 857.8L979.1 858.6L982.6 859.6L991.1 860.7L997.1 862.5L1001.6 864.5L1011.6 870.3L1014.1 871.5L1015.1 871.7L1016.1 871.6L1017.6 870.6L1018.6 869.4L1022 864.3L1027 859L1029 855.9L1031 851.8L1036 839.3L1039.5 831.6L1042.5 825.8L1045 821.8L1046.5 818.9L1048 816.8L1050 815.1L1051 814.7L1052.5 814.4L1054 814.6L1058.5 815.6L1061.5 816L1066.5 815.9L1069.5 815.2L1071 814.4L1073 812.4L1075.5 809L1077.5 805.5L1079.5 801.3L1081 797.6L1082.5 793.3L1084 787.9L1086 778.8L1093.5 740.2L1096 728.8L1098.5 718.9L1100.5 712.7L1103 707.3L1104 705.7L1105 704.5L1106 703.8L1107 703.7L1108 704L1109 704.7L1110 705.8L1111 707.4L1112.5 711.1L1113.5 715L1116 729.2L1124.5 786L1128.5 808.9L1130.5 817.7L1132.5 824L1135 829.8L1136.5 832.4L1138 834.6L1141 837.7L1142.5 838.8L1143.5 839.2L1144.5 839.4L1146 839.3L1148 838.8L1150 838.1L1153 836.6L1155.5 834.7L1158 832.1L1166 822.9L1167.5 821.7L1169 821.1L1171.5 820.9L1177.5 821.2L1184 821.8L1191.5 823.3L1193.5 823L1195 823L1196.5 823.5L1198 824.4L1202 828.2L1206.5 833.3L1212.5 841.2L1214 842.8L1215 843.5" stroke="#f5b4cd" stroke-width="2.8"/><path d="M827.6 846.2L829.6 847.3L836.1 851.9L840.6 854.7L853.6 862.3L867.1 869.6L869.6 871.3L871.6 873.2L874.6 877.2L877.6 882.2L893.1 910.2L905.6 934.5L911.6 944.7L915.1 949.5L917.1 951.6L918.6 952.9L920.1 953.8L921.6 954.2L922.6 954.2L924.1 953.7L926.6 951.9L928.1 950.2L929.6 948.3L932.1 944.1L934.6 938.3L936.1 933.9L940.6 918.8L944.6 907.5L946.6 901.2L949.1 892.1L953.6 874.2L955.1 869L956.6 864.7L958.1 861.3L959.6 858.8L961.1 856.9L962.6 855.9L963.6 855.7L964.6 855.8L966.1 856.4L970.6 858.7L975.6 861L978.1 861.8L980.6 862L989.1 861.7L991.6 862L994.6 862.6L998.1 863.7L1001.1 864.9L1013.1 870.8L1014.6 871.3L1016.1 871.2L1017.1 870.6L1018.1 869.7L1022 864.2L1026.5 859.3L1028.5 856.5L1031 851.5L1036.5 838.1L1040 830.6L1042.5 825.8L1046.5 819.1L1048.5 816.6L1050.5 815.1L1051.5 814.7L1053 814.5L1054.5 814.7L1059.5 816L1062 816.4L1066 816.5L1069 816.2L1070.5 815.6L1072 814.7L1073.5 813.3L1075.5 811L1078 807.3L1080.5 802.6L1082.5 797.9L1084 793.4L1086.5 783.5L1094.5 747.3L1097.5 735.4L1099.5 728.7L1101.5 723.5L1104 718.7L1105.5 716.9L1106.5 716.3L1107.5 716.1L1108.5 716.3L1109.5 716.8L1111 718.3L1112.5 721.2L1113.5 724.2L1115 730.6L1116.5 738.2L1125 784.2L1129 802.5L1131 809.3L1133 814.3L1135.5 819.1L1138.5 823.3L1141 825.9L1143.5 827.7L1145.5 828.4L1148.5 828.7L1152.5 828.4L1155.5 827.5L1159 825.4L1166 820.7L1167.5 820L1168.5 819.8L1170.5 819.9L1183 821.4L1191.5 823L1193.5 823L1195 823.1L1196.5 823.7L1198 824.6L1202.5 828.7L1207 833.9L1213 841.7L1215 843.5" stroke="#f09ab7" stroke-width="2.8"/><path d="M827.6 846.3L829.6 847.4L836.6 852.5L841.6 855.7L852.6 861.9L867.1 869.1L869.6 870.7L871.6 872.3L874.6 875.7L877.6 880L893.1 903.9L906.1 925.5L912.6 935L916.6 939.5L918.6 941.2L920.1 942.2L921.6 942.9L923.1 943L924.6 942.9L926.1 942.3L928.6 940.8L931.1 938.5L933.1 936L935.1 932.5L940.1 920.7L944.6 911.5L946.6 906.8L949.1 899.7L954.1 884.1L956.1 878.8L957.6 875.5L959.1 872.9L960.6 870.6L962.1 869L963.6 867.9L965.6 867.3L977.1 865.7L985.6 863.4L988.1 863L990.1 863L994.1 863.5L999.6 865L1010.6 869.6L1013.6 870.7L1015.1 870.9L1016.6 870.5L1017.6 869.8L1018.6 868.8L1022 864.2L1026.5 859.1L1028.5 856.1L1031 851.2L1036.5 838L1040.5 829.6L1043 824.9L1046 820L1047 818.6L1048.5 816.8L1050.5 815.3L1051.5 814.9L1053 814.6L1055 814.9L1059.5 816.2L1062.5 816.8L1066.5 817.1L1069.5 816.9L1071 816.4L1073 815.2L1075 813.5L1077 811.3L1079.5 808L1081.5 804.6L1083 801.5L1084.5 797.5L1087 788.9L1096 753.6L1098.5 744.9L1100.5 739.1L1102.5 734.5L1104.5 730.9L1105.5 729.7L1106.5 728.8L1107.5 728.4L1108.5 728.2L1109.5 728.4L1110.5 728.9L1112 730.4L1113 732.2L1114.5 736.4L1117.5 747.9L1125 779.3L1128 790.3L1130 796.5L1132 801.3L1134 805.1L1136.5 808.9L1139.5 812.6L1142.5 815.6L1145 817.2L1148.5 818.7L1153 820L1155 820.3L1157 820.2L1161.5 819.5L1166 818.4L1168 818.4L1174 819.8L1185 821.5L1191.5 822.8L1194 823L1196 823.6L1198.5 825.2L1203.5 829.8L1207.5 834.4L1213 841.6L1215 843.5" stroke="#eb81a1" stroke-width="2.8"/><path d="M827.6 846.3L829.6 847.4L837.6 853.5L843.6 857.3L852.1 861.8L867.1 868.6L869.6 870L872.1 871.8L876.1 876L888.1 891.1L895.1 900.3L906.6 916.3L911.1 921.9L914.6 925.9L919.1 930L920.6 931L922.1 931.7L924.1 932.2L926.1 932.4L928.1 932.2L930.1 931.6L932.6 930.3L935.1 928.1L940.1 921.1L945.1 914.7L946.6 912.3L948.6 908.4L954.6 894.7L958.1 887.8L961.6 882.4L963.6 880.2L965.6 878.4L974.1 871.8L980.6 867.5L984.6 865.5L988.6 864.4L991.6 864.3L996.1 864.9L1001.1 866.2L1013.1 870.3L1015.1 870.5L1016.6 870.1L1017.6 869.4L1019.1 867.9L1026 859.4L1028 856.6L1030.5 851.9L1036.5 837.9L1041 828.6L1043 824.9L1046 820.2L1048.5 817.1L1051 815.3L1052.5 814.8L1053.5 814.7L1055.5 815.1L1060 816.5L1063.5 817.3L1067.5 817.7L1070 817.6L1072 817L1074.5 815.7L1077 813.8L1079 811.8L1081 809.4L1082.5 807.3L1084 804.5L1085.5 800.9L1088 793.3L1097.5 761.1L1099.5 755.1L1101.5 749.9L1103.5 745.6L1105.5 742.5L1106.5 741.4L1107.5 740.6L1108.5 740.2L1109.5 740L1111 740.2L1112 740.8L1113 741.9L1114.5 744.6L1117.5 752.4L1125.5 775.8L1128.5 783.5L1130.5 787.9L1133 792.2L1136 796.6L1139 800.2L1142.5 804L1145.5 806.6L1150.5 810.1L1154 812.3L1157 813.7L1161.5 815.1L1166.5 816.3L1171.5 818.4L1173.5 819L1193.5 822.9L1196.5 824.1L1198 825L1200.5 827L1204 830.3L1208 834.9L1213 841.5L1215 843.4" stroke="#e7678c" stroke-width="2.8"/><path d="M827.6 846.3L829.6 847.5L834.6 851.6L838.1 854.2L845.1 858.5L852.1 862L867.6 868.3L872.1 870.8L876.6 874.6L887.6 885.6L894.6 892.9L909.6 909.4L914.1 913.9L918.6 917.9L922.6 920.7L925.1 922L927.6 923L930.1 923.7L932.1 923.9L934.1 923.9L935.6 923.5L944.1 919.6L946.1 918.2L948.1 916.2L952.1 910.7L962.6 893.9L973.1 878.9L975.6 875.7L978.6 872.3L981.1 869.9L983.1 868.3L985.6 866.9L987.6 866L989.6 865.5L991.6 865.4L995.1 865.7L999.6 866.5L1009.6 869.2L1013.6 870.1L1015.1 870.1L1016.1 869.9L1018.1 868.6L1025 860.5L1028 856.3L1030.5 851.6L1037 836.8L1042 826.7L1044 823.3L1046.5 819.6L1048 817.9L1050 816.2L1051.5 815.3L1052.5 814.9L1054.5 814.9L1056 815.2L1061 817L1064 817.8L1068 818.4L1071 818.4L1074 817.6L1077 816.2L1079.5 814.6L1082 812.5L1083.5 810.7L1085 808.4L1087.5 802.9L1091 793.2L1099 769.6L1101 764.3L1103 759.7L1105 756L1107 753.4L1109 751.8L1110.5 751.2L1111.5 751.1L1112.5 751.3L1113.5 751.9L1114.5 752.8L1116 754.6L1118.5 758.4L1128 774.3L1130.5 778L1134 782.4L1144 794L1152.5 802.9L1156.5 806.8L1162.5 811.5L1169.5 816.4L1172 817.8L1174 818.6L1177 819.4L1188.5 821.7L1192.5 822.6L1195 823.5L1197.5 824.9L1201.5 827.9L1204.5 830.8L1208 834.8L1213 841.4L1215 843.4" stroke="#e24e76" stroke-width="2.8"/><path d="M827.6 846.3L829.6 847.6L834.6 852.1L838.1 854.8L842.1 857.5L846.1 859.9L851.6 862.2L869.6 867.9L882.1 873.2L888.6 876.3L896.1 880.3L905.6 885.6L912.6 889.9L916.1 892.5L919.1 895L921.6 897.4L924.6 900.7L930.6 908.4L940.1 922.2L943.1 925.7L945.6 928L948.1 929.7L950.6 930.8L953.1 931.2L954.1 931L955.1 930.6L956.6 929.4L958.6 926.8L960.6 923.3L962.6 919.2L964.6 914.4L972.6 892.9L976.1 884.3L978.1 880.2L980.1 876.7L982.1 873.8L984.1 871.6L986.1 869.9L987.6 868.9L989.1 868.2L991.1 867.7L993.1 867.6L996.6 867.8L1008.6 869.1L1013.1 869.4L1014.6 869.4L1016.1 869L1017.1 868.5L1018.6 867.5L1021.1 865L1023.5 862.1L1026 858.8L1028 855.6L1031 849.9L1039 832.5L1042 826.6L1044 823.2L1046 820.4L1048 818.2L1050 816.4L1051.5 815.4L1053.5 814.9L1055.5 815.1L1064 818.2L1069 820.2L1071 820.7L1073.5 821.2L1077 821.3L1080.5 821.1L1083 820.5L1085 819.5L1086.5 818.1L1088 816.1L1091.5 810.2L1095 803.3L1103.5 784.6L1106.5 779.1L1109.5 774.5L1113.5 769.4L1117 766L1120.5 763.8L1126.5 761.2L1128.5 760.7L1130 760.7L1131.5 760.9L1133.5 761.6L1135.5 762.8L1138 764.7L1140 766.6L1142.5 769.3L1145.5 773.2L1148.5 777.8L1160.5 798.5L1165.5 806.6L1169 811.6L1172 814.9L1175.5 817.5L1179 819.4L1182 820.4L1189 821.8L1192 822.6L1195 823.9L1198.5 825.9L1202 828.5L1205.5 831.8L1208.5 835.3L1213 841.3L1215 843.3" stroke="#c72a6c" stroke-width="2.8"/><path d="M827.6 846.3L829.6 847.7L835.1 852.8L839.1 855.9L844.1 859.2L848.6 861.4L852.6 862.7L872.1 867.9L886.1 870.6L903.6 875.2L907.6 876.5L911.1 877.9L914.1 879.5L916.6 881.3L919.6 883.8L922.1 886.6L924.6 890.1L927.6 895.1L933.6 907L941.1 924.7L945.6 932.7L948.6 937.2L951.1 940.3L953.1 942.2L954.1 942.8L955.1 943L956.6 942.4L958.1 940.8L959.6 938.5L961.6 934.3L964.6 926.1L973.1 897.9L976.6 887.6L978.6 882.7L980.6 878.7L982.6 875.5L984.6 873L986.6 871.1L988.1 870L989.6 869.3L991.1 868.9L994.6 868.7L1008.1 869.2L1013.6 869.1L1015.1 868.9L1016.6 868.4L1018.1 867.5L1019.6 866.3L1022 863.8L1024 861.4L1028 855.3L1031 849.6L1039.5 831.5L1042 826.6L1044 823.2L1046 820.4L1048 818.1L1050 816.4L1051.5 815.4L1053 814.9L1054.5 814.9L1062.5 817.5L1064.5 818.3L1068.5 820.8L1071 822.1L1074 823.2L1077.5 824.1L1081 824.7L1083.5 824.6L1085.5 824.1L1087 823.1L1089 821.2L1092 817.6L1094 814.8L1096.5 810.7L1106 792.7L1115.5 773.7L1119 767.5L1124 760.2L1126.5 756.9L1129 754.4L1130.5 753.4L1131.5 752.9L1133 752.6L1134.5 752.7L1136.5 753.3L1138 754L1139.5 755L1141.5 756.8L1145 761L1148 765.9L1151.5 772.6L1162 794.9L1166.5 803.9L1170 809.9L1172 812.7L1174 815L1177 818L1178.5 819.1L1180 819.9L1182.5 820.7L1189.5 822.1L1192.5 823L1196 824.6L1200 827L1203 829.4L1206 832.3L1209 835.8L1213 841.2L1215 843.2" stroke="#b12178" stroke-width="2.8"/><path d="M827.6 846.3L829.6 847.8L835.6 853.5L840.6 857.3L845.6 860.4L848.1 861.5L850.6 862.3L868.6 866.4L872.6 867L875.6 867L882.1 866.3L886.1 866.1L903.1 865.9L907.1 866.1L910.6 866.8L913.1 867.6L915.6 868.9L918.1 870.8L920.6 873.3L922.6 876.1L924.6 879.6L927.1 884.7L930.1 891.8L933.1 899.9L935.6 907.6L940.6 924.4L944.1 933.7L948.6 944.4L952.1 951.6L954.1 954.5L955.1 955.3L956.1 955.5L956.6 955.4L957.6 954.6L959.1 952.6L960.6 949.7L962.1 946L965.1 936L973.1 904.2L976.6 892L978.6 886.2L980.6 881.5L982.6 877.8L985.1 874.3L986.6 872.7L988.1 871.4L989.6 870.6L991.1 870.1L994.1 869.7L1007.6 869.4L1013.1 868.9L1015.1 868.5L1017.1 867.7L1018.6 866.8L1020.6 865.3L1022.5 863.2L1024 861.3L1026 858.3L1028.5 854.1L1031 849.3L1039.5 831.5L1043.5 824L1045.5 821L1047.5 818.6L1049.5 816.7L1051.5 815.4L1053 814.9L1054.5 814.9L1059 816.4L1063 817.5L1065 818.6L1069.5 822.4L1073 824.7L1078.5 827.4L1083 828.9L1085.5 829.1L1087.5 828.6L1090.5 827L1093 825.1L1095.5 822.5L1098.5 818.6L1102 813L1105 807.5L1107 803.2L1109.5 797.1L1118.5 771.7L1125.5 754.8L1127.5 750.6L1129.5 747.3L1131.5 745L1133.5 743.6L1135 743.1L1136.5 743L1138 743.3L1139.5 744L1141 745.1L1143 747L1144.5 748.8L1146 751.1L1149 756.9L1152.5 764.7L1163.5 792.6L1167.5 801.9L1171.5 809.6L1174 813.5L1176.5 816.9L1178.5 818.9L1181 820.5L1183 821.1L1189.5 822.4L1192.5 823.3L1196.5 825.1L1200.5 827.5L1203.5 829.8L1206.5 832.7L1209 835.7L1213.5 841.7L1215 843.2" stroke="#9c1783" stroke-width="2.8"/><path d="M827.6 846.3L829.6 847.9L834.1 852.4L837.6 855.4L842.1 858.7L846.1 861L848.6 862L851.1 862.7L868.6 865.7L871.6 866L874.6 865.6L884.6 862L896.1 858.9L903.1 856.7L906.6 856.1L910.1 855.9L913.1 856.3L916.1 857.6L918.6 859.5L921.1 862.5L923.1 865.9L925.6 871.3L928.1 877.9L930.6 885.5L933.1 893.9L935.6 903.6L941.1 927.1L947.1 946.9L950.6 957.6L953.1 964.2L954.1 966.3L955.1 967.6L955.6 968.1L956.6 968.3L957.1 968.1L958.1 967.3L959.6 965L961.1 961.6L962.6 957.2L965.1 947.4L973.1 910.6L976.6 896.3L978.6 889.7L980.6 884.3L982.6 880L985.1 876.1L986.6 874.3L988.1 872.8L989.6 871.8L991.1 871.2L993.6 870.8L1006.1 869.7L1012.6 868.7L1015.1 868.1L1017.1 867.3L1019.1 866.2L1021.1 864.7L1022.5 863.1L1024 861.2L1028 854.7L1031 849L1040.5 829.5L1044 823.2L1046 820.4L1048 818.1L1050 816.3L1052 815.2L1053 814.9L1054.5 814.9L1058.5 816.3L1062 817L1063.5 817.5L1065.5 819.1L1070 823.9L1074 827.2L1080.5 831.7L1083 833.1L1085 833.9L1086.5 834.3L1088.5 834.5L1092 834.2L1093.5 833.8L1095 833L1097.5 831.1L1100.5 827.7L1103 824.1L1105 820.4L1107 815.6L1109 810L1111 803.4L1119.5 771.4L1126.5 748.3L1129 741.8L1131 737.8L1133 735.1L1134 734.1L1135.5 733.2L1137 732.6L1138 732.6L1139.5 732.9L1141 733.8L1142.5 735L1144 736.7L1145.5 738.9L1147 741.6L1150 748.5L1153.5 757.5L1163.5 787.2L1167.5 798.1L1169.5 802.9L1172 808.3L1175 813.8L1177 817L1179 819.3L1181 820.7L1183 821.4L1189.5 822.7L1193 823.7L1197 825.5L1201 827.9L1204 830.2L1207 833.2L1209.5 836.2L1213.5 841.6L1215 843.1" stroke="#860e8f" stroke-width="2.8"/><path d="M827.6 846.3L829.1 847.5L834.1 852.6L837.6 855.8L842.6 859.4L846.1 861.4L848.6 862.4L851.1 862.9L860.1 863.9L867.1 865L869.6 865.2L872.6 864.8L875.1 863.9L884.1 858.2L895.6 852L903.1 847.6L907.1 845.8L910.6 845L912.1 844.9L913.6 845.1L915.1 845.5L916.6 846.3L919.1 848.4L920.6 850.3L921.6 851.9L923.6 856L926.1 862.6L929.1 872.3L931.6 881.7L934.1 892.3L939.6 921.1L941.6 930.6L948.6 958.8L951.6 970.2L953.6 976.7L955.1 980L955.6 980.6L956.6 981.3L957.1 981.2L958.1 980.6L959.6 978.3L961.6 973.2L963.1 967.9L965.6 956.3L974.1 912L976.6 900.7L978.6 893.2L980.6 887.1L982.6 882.3L985.1 877.9L987.6 874.7L989.6 873.1L992.1 872.1L1004.6 870.3L1009.1 869.4L1013.1 868.3L1018.6 866.2L1020.1 865.3L1021.5 864.1L1023 862.5L1024.5 860.4L1028 854.4L1040.5 829.5L1044 823.2L1046 820.3L1048 818.1L1050 816.3L1052 815.1L1053 814.9L1054.5 814.9L1058.5 816.3L1062 816.8L1063.5 817.4L1065.5 819.3L1069 823.8L1071.5 826.7L1079 833.9L1082.5 836.9L1085 838.8L1088 840.6L1091 842.1L1092.5 842.7L1094 842.9L1095.5 842.9L1097 842.4L1098.5 841.6L1100 840.4L1101.5 838.9L1103 836.9L1105 833.2L1106.5 829.5L1108 825L1110 817.8L1113 804.9L1120 771.5L1125.5 748L1128 738.7L1130 732.6L1132 728.1L1133 726.3L1134.5 724.3L1136 722.9L1137 722.2L1138 721.9L1139.5 721.9L1141 722.5L1142.5 723.6L1144 725.2L1145 726.6L1147.5 731.5L1150.5 739.2L1154 749.5L1164 783.4L1168 795.8L1170.5 802.4L1173 808.3L1175.5 813.7L1177.5 817.3L1179.5 819.8L1181.5 821.1L1183.5 821.8L1189.5 822.9L1193 824L1197.5 826L1201.5 828.3L1204.5 830.7L1207 833.1L1209.5 836.1L1213.5 841.6L1215 843.1" stroke="#70049b" stroke-width="2.8"/><path d="M827.6 846.3L829.6 847.6L834.6 851.8L838.1 854.5L842.1 857.2L846.1 859.5L852.1 862.2L868.1 868L871.1 869.3L874.1 871L884.1 878.1L892.6 884.6L922.6 909.6L933.1 918L937.6 920.6L942.1 922.6L945.1 923.3L946.6 923.3L948.1 923L950.6 921.9L953.1 920.2L955.6 917.7L957.6 915.1L960.1 911L963.1 905.6L972.6 886.2L975.6 880.6L978.1 876.5L980.1 873.7L982.1 871.4L984.1 869.7L986.1 868.3L988.1 867.2L990.1 866.7L992.1 866.5L998.6 867.2L1010.1 869.3L1014.6 869.7L1016.1 869.4L1017.1 869L1019.6 866.8L1024.5 861L1028 856L1031 850.2L1038 834.6L1042.5 825.8L1044.5 822.5L1046 820.4L1048 818.2L1050 816.4L1051.5 815.5L1052.5 815.1L1054.5 814.9L1056 815.3L1061 817.3L1064.5 818.4L1068.5 819.2L1072 819.4L1075.5 819L1079.5 817.9L1082.5 816.6L1084.5 815.1L1086 813.4L1087 811.8L1090 805.7L1093.5 797.3L1101.5 776.3L1103.5 771.8L1105 768.9L1107 765.8L1109.5 763.2L1111 762.1L1112.5 761.4L1115 760.9L1117 761.2L1119 761.8L1126 765.2L1130.5 768L1134 771.1L1139 776.6L1143.5 782L1156 799.4L1160.5 805.2L1166.5 812.2L1170 815.7L1172.5 817.3L1175 818.3L1180 819.7L1191 822L1194 823.2L1197 824.8L1201 827.6L1204.5 830.8L1208 834.7L1213 841.3L1215 843.3" stroke="#dd3460" stroke-width="3.5"/></g>
<rect x="827.6" y="659.8" width="387.4" height="365.1" fill="none" stroke="#262626" stroke-width="1.3"/><path d="M827.6 1024.9V1020.4M827.6 659.8V664.3" stroke="#262626" stroke-width="1.2"/><path d="M1021.3 1024.9V1020.4M1021.3 659.8V664.3" stroke="#262626" stroke-width="1.2"/><path d="M1215 1024.9V1020.4M1215 659.8V664.3" stroke="#262626" stroke-width="1.2"/><path d="M827.6 659.8H832.1M1215 659.8H1210.5" stroke="#262626" stroke-width="1.2"/><path d="M827.6 842.5H832.1M1215 842.5H1210.5" stroke="#262626" stroke-width="1.2"/><path d="M827.6 1025.2H832.1M1215 1025.2H1210.5" stroke="#262626" stroke-width="1.2"/>
<rect x="1328.7" y="659.4" width="193.5" height="365.5" fill="#f2f2f8"/>
<path d="M1328.7 842.4H1715.6" stroke="#dedede" stroke-width="1"/>
<path d="M1328.7 711.9H1715.6" stroke="#dedede" stroke-width="1"/>
<path d="M1425.4 659.4V1024.9" stroke="#3a3a3a" stroke-width="1.1"/>
<path d="M1522.2 659.4V1024.9" stroke="#3a3a3a" stroke-width="1.1"/>
<path d="M1618.9 659.4V1024.9" stroke="#3a3a3a" stroke-width="1.1"/>
<path d="M1328.7 972.8H1715.6" stroke="#333" stroke-width="2.2"/>
<g fill="none" stroke-linejoin="round" stroke-linecap="round" clip-path="url(#cpwb)"><path d="M1328.7 972.8L1330.2 972.1L1332.7 970.1L1341.2 962.9L1348.2 956.4L1351.2 954.1L1353.2 952.9L1356.2 951.6L1362.6 949.1L1369.1 946.9L1372.1 945.2L1373.6 943.8L1375.6 941.2L1377.6 937.9L1380.1 933.1L1383.1 926.4L1386.1 918.1L1389.6 906.8L1393.1 894L1396.6 878.9L1409.6 817.8L1412.1 807.3L1414.6 797.9L1416.6 791.1L1418.1 787.2L1419.6 784.9L1420.1 784.5L1421.1 784.3L1422.6 784.9L1424.1 786.1L1425.5 787.8L1426.5 789.4L1427.5 791.5L1428.5 794.4L1430.5 802.2L1434 820.1L1437 837.9L1447.5 910.3L1451 931.7L1454 947.4L1456 956.3L1458 963L1459 965.5L1460.5 968.4L1462.5 971L1463.5 971.7L1464.5 972.1L1466.5 972.2L1469 971.8L1471 971.3L1472.5 970.5L1473.5 969.6L1475 967.6L1479 960.1L1481.5 956L1484.5 951.8L1487.5 948L1490.9 944.3L1494.9 940.9L1497.4 939.5L1499.4 939.2L1500.9 939.6L1502.9 940.8L1505.4 942.9L1507.9 945.3L1509.9 947.8L1515.4 955.4L1520.9 962.1L1525.4 968.1L1527.4 970.2L1529.9 972L1531.9 972.8L1533.4 972.7L1534.9 971.8L1535.9 970.8L1537.4 968.6L1541.9 960.8L1547.9 950.9L1551.9 945L1553.4 943.4L1554.8 942L1559.8 938.8L1561.3 937.7L1563.3 935.7L1565.3 933L1567.8 928.6L1569.8 924.3L1571.3 920.2L1572.8 915.2L1575.3 904.7L1578.8 887.3L1583.3 863L1586.8 842L1592.3 805.3L1599.3 751.4L1604.3 717.4L1605.3 712.1L1606.3 708.2L1607.3 705.9L1607.8 705.3L1608.3 705.2L1608.8 705.3L1609.3 705.8L1610.3 707.5L1611.3 709.9L1612.8 714.8L1614.8 724.3L1616.3 735L1617.8 749.6L1619.7 773.3L1625.7 859.3L1627.2 877L1629.2 897.4L1631.7 918.9L1634.7 939.9L1637.2 952.8L1638.7 958.8L1640.2 963.5L1641.2 965.6L1641.7 966.2L1642.7 967L1644.2 967L1646.7 965.6L1649.7 962.9L1651.7 960.5L1658.2 949.5L1660.7 946.1L1663.7 942.8L1666.2 940.7L1669.2 939.1L1672.7 937.8L1675.2 937.5L1676.7 938L1678.2 939.1L1684.1 945.8L1694.6 953.8L1707.6 966.5L1713.1 971.2L1715.6 972.8" stroke="#f5b4cd" stroke-width="2.8"/><path d="M1328.7 972.7L1331.2 971.3L1335.7 967.7L1341.2 963L1348.2 956.3L1351.2 954L1353.7 952.6L1356.7 951.2L1369.1 946L1372.1 944.2L1373.6 942.9L1375.6 940.5L1377.6 937.4L1380.1 933.1L1383.1 927.1L1386.1 919.8L1389.6 909.9L1393.1 898.8L1397.1 883.7L1410.1 830.3L1412.6 821.2L1415.6 811.3L1417.6 805.6L1419.1 802.7L1420.6 801.3L1422.1 800.9L1423.6 801.1L1425.1 801.8L1426.5 803L1427.5 804.3L1428.5 806.1L1429.5 808.6L1431.5 814.9L1434.5 826.5L1437 837.5L1448.5 898.5L1452.5 917.1L1455 927.3L1457 934.1L1459 939.1L1461.5 943.6L1463.5 946.1L1465.5 947.8L1471 951L1472.5 951.5L1473.5 951.6L1474.5 951.3L1475.5 950.8L1479 948.1L1481 946.9L1494.9 940L1497.4 939.2L1498.9 939.2L1499.9 939.4L1501.4 940.2L1503.4 941.6L1507.9 945.9L1515.4 955.6L1520.9 962L1525.4 967.7L1527.4 969.8L1529.9 971.7L1531.9 972.6L1533.4 972.6L1534.9 971.8L1536.4 970.2L1537.9 968L1547.9 951.2L1551.4 946.1L1552.9 944.4L1554.8 942.6L1559.8 939.9L1561.8 938.5L1563.3 937.1L1565.3 934.7L1567.8 930.7L1569.8 926.9L1571.8 922L1573.3 917.4L1576.3 906.2L1580.3 888.7L1583.8 872.2L1586.8 856.1L1592.3 822.4L1599.3 772.1L1604.3 740.1L1605.8 733.1L1606.8 730L1607.8 728.3L1608.3 728L1608.8 728L1609.8 728.6L1610.8 730.1L1612.8 734.7L1614.8 742.1L1616.3 750.7L1617.8 762.4L1619.2 776.5L1621.2 798.2L1625.7 851.8L1627.2 866.5L1629.2 883.4L1631.7 901.5L1634.7 919.4L1637.7 932.9L1639.2 938.2L1640.7 942.3L1641.7 944.1L1643.2 945.6L1644.7 946.2L1647.2 946.2L1649.7 945.7L1651.7 944.9L1653.2 944L1658.2 940L1660.2 939L1663.2 937.9L1665.7 937.3L1668.7 937.2L1672.7 937.4L1675.2 937.9L1676.7 938.7L1677.7 939.4L1684.1 946.4L1695.1 955.1L1707.6 966.7L1713.1 971.2L1715.6 972.7" stroke="#f09ab7" stroke-width="2.8"/><path d="M1328.7 972.5L1331.2 971.2L1337.2 966.5L1341.7 962.6L1348.2 956.3L1351.2 953.9L1355.7 951.5L1369.1 945.1L1372.1 943.2L1373.6 942L1375.6 939.7L1379.6 933.9L1383.1 927.8L1386.1 921.5L1389.6 913.1L1393.1 903.5L1397.6 889.1L1410.6 843.4L1413.6 834L1416.6 825.3L1418.6 820.8L1420.1 818.7L1421.1 817.8L1422.6 816.9L1424.1 816.5L1425.5 816.3L1426.5 816.5L1427.5 817L1428.5 817.9L1429.5 819.2L1432 824L1435 831.3L1438.5 842.2L1449.5 883.9L1455 902.6L1457 908.2L1458.5 911.7L1461.5 917.3L1464 921.3L1472 931.9L1473.5 933.5L1475.5 934.9L1484 938.2L1488 939.3L1491.4 939.7L1495.9 938.9L1497.4 938.8L1499.4 939.4L1501.4 940.5L1504.4 943L1507.9 946.5L1514.9 955.3L1525.4 967.4L1527.4 969.5L1529.9 971.5L1531.9 972.4L1533.4 972.5L1534.9 971.7L1536.4 970.2L1537.9 968.2L1547.9 951.4L1551.4 946.5L1552.9 944.9L1554.8 943.3L1556.8 942.2L1560.3 940.7L1562.3 939.4L1563.8 938.1L1565.8 935.7L1568.3 932.1L1570.3 928.5L1572.3 924.1L1574.3 918.7L1577.8 907.2L1581.8 892.4L1584.8 879.8L1587.3 867.5L1592.3 839.4L1599.8 789.6L1602.8 771.1L1604.8 760.3L1605.8 756.2L1606.8 753.2L1607.8 751.4L1608.3 750.9L1609.3 750.6L1610.3 751L1611.3 752.1L1612.3 753.6L1613.3 755.6L1614.8 759.9L1616.3 766.4L1617.8 775.3L1619.7 790L1625.7 844.3L1627.7 859.5L1629.7 872.5L1632.7 889.4L1635.2 901.2L1638.7 914.3L1640.2 918.7L1641.2 921L1642.7 923.5L1644.2 925.1L1646.2 926.6L1649.2 928.3L1652.2 929.5L1657.7 930.4L1660.2 931.2L1667.2 934.3L1673.2 937.2L1675.7 938.6L1678.2 940.7L1682.7 945.6L1685.1 947.9L1695.1 956L1708.1 967.2L1713.1 971.2L1715.6 972.6" stroke="#eb81a1" stroke-width="2.8"/><path d="M1328.7 972.3L1330.2 971.7L1331.7 970.8L1337.7 966.2L1341.7 962.7L1347.7 956.7L1350.7 954.2L1354.2 952.1L1368.6 944.5L1372.1 942.3L1375.6 939L1380.1 933.2L1383.6 927.7L1386.6 922.3L1390.6 914L1393.6 907.1L1396.6 899.2L1401.6 885.1L1411.6 855.6L1415.1 846.2L1417.6 840.2L1419.6 836.5L1422.1 833.4L1425.5 830.6L1427 829.9L1428 829.6L1429 829.7L1430 830L1431.5 830.9L1433 832.1L1435.5 834.7L1438 838.5L1440.5 843.5L1444.5 852.2L1455 877.9L1457.5 883.4L1466.5 900.9L1474 916.4L1476.5 920.5L1482.5 929.2L1486.5 933.9L1488.5 935.7L1489.9 936.8L1492.4 937.9L1496.4 938.3L1497.9 938.7L1499.9 939.7L1501.9 941.2L1506.9 946L1514.9 955.6L1525.4 967.1L1527.9 969.6L1530.4 971.5L1531.9 972.3L1533.4 972.4L1534.9 971.7L1536.4 970.3L1538.4 967.7L1547.9 951.7L1549.9 948.7L1551.4 946.9L1553.4 944.9L1555.3 943.6L1556.8 942.9L1560.8 941.6L1562.8 940.4L1564.8 938.6L1567.3 935.6L1570.3 931.3L1572.3 927.7L1574.3 923.4L1576.8 917.2L1580.3 907.5L1583.3 898L1585.3 890.6L1587.8 879.5L1592.8 853.7L1600.3 807.6L1603.3 790.5L1604.8 783.2L1606.3 777.7L1607.3 775.2L1607.8 774.4L1608.8 773.3L1609.3 773L1610.3 772.8L1611.3 773.1L1612.3 773.9L1613.8 775.7L1615.3 778.9L1616.8 783.9L1618.3 790.5L1619.7 798.3L1625.7 836.9L1627.7 848L1630.2 860.1L1633.2 872.9L1636.2 883.9L1639.7 894.9L1642.2 900.9L1645.2 905.6L1651.7 913.8L1664.2 928.2L1668.7 932.9L1676.7 940L1682.7 946.3L1686.6 949.9L1706.6 966.2L1713.1 971.1L1715.6 972.5" stroke="#e7678c" stroke-width="2.8"/><path d="M1328.7 972.2L1330.2 971.6L1332.2 970.4L1338.2 965.9L1341.7 962.8L1347.7 956.6L1350.7 954.1L1368.1 943.9L1372.6 940.9L1376.1 937.8L1380.6 932.6L1384.1 927.9L1387.6 922.6L1391.6 915.8L1394.6 910.1L1403.1 891.6L1415.6 861.8L1418.1 856.4L1420.1 852.8L1424.6 846.2L1426.5 843.6L1428.5 841.4L1431 839.3L1433.5 837.6L1435.5 836.7L1437 836.5L1439.5 837L1442.5 838.4L1445 840.1L1447.5 842.5L1450 845.4L1452.5 849L1460 861.7L1462.5 867L1466 875.8L1474.5 900.3L1480.5 916L1485 926L1487 929.6L1489 932.7L1490.4 934.5L1491.9 935.8L1493.4 936.7L1497.9 938.5L1499.9 939.9L1502.4 942L1506.9 946.6L1514.9 955.8L1525.9 967.3L1529.4 970.5L1530.9 971.6L1532.4 972.2L1533.4 972.2L1534.9 971.6L1536.9 969.8L1538.9 967.2L1541.4 963.2L1547.9 951.9L1549.9 949L1551.4 947.2L1553.4 945.5L1555.3 944.2L1556.8 943.6L1561.3 942.6L1563.3 941.5L1565.8 939.3L1569.3 935.3L1572.3 931.3L1575.3 926.5L1578.3 921L1581.3 914.6L1583.8 908.3L1585.8 902L1587.8 894.1L1590.8 880.8L1593.8 865.7L1601.8 820.5L1604.8 806.1L1606.3 800.9L1607.3 798.4L1608.3 796.6L1609.3 795.4L1610.3 794.6L1611.3 794.2L1612.3 794.1L1613.8 794.6L1615.3 796.1L1616.8 798.8L1618.8 803.7L1621.2 811.7L1625.7 829.4L1629.2 841.4L1634.2 856.8L1641.2 876.5L1644.2 883.2L1661.2 917.8L1664.7 924.4L1668.2 930L1672.2 935.5L1676.7 940.7L1682.7 946.9L1690.1 953.6L1697.1 959.3L1711.6 970L1714.1 971.7L1715.6 972.5" stroke="#e24e76" stroke-width="2.8"/><path d="M1328.7 972.2L1330.2 971.6L1331.7 970.8L1337.7 966.3L1341.7 962.8L1348.2 956.2L1351.2 953.8L1356.7 950.5L1377.1 938.8L1380.6 936.6L1385.1 933.3L1390.6 928.8L1395.6 924.1L1400.1 919.2L1404.1 914.2L1409.6 906.3L1414.6 898.2L1420.1 887.8L1423.6 879.9L1426 873.3L1428 867.1L1434.5 843.1L1438 831.1L1441 821.9L1443.5 815.6L1446 810.6L1448 807.7L1450 805.9L1451 805.5L1452.5 805.1L1454 805.3L1455.5 806.1L1457 807.4L1458.5 809.2L1460 811.6L1461.5 814.7L1464 821.8L1466.5 831.4L1469 842.6L1477.5 885.8L1481 901.8L1483 909.8L1485.5 918.5L1487.5 924.5L1489.5 929.5L1490.9 932.2L1492.4 934.1L1493.9 935.5L1498.9 939.1L1504.4 944L1507.4 947.2L1515.4 956.4L1526.4 967.8L1528.9 970.1L1530.9 971.6L1532.4 972.2L1533.9 972.1L1535.4 971.3L1536.9 969.8L1538.4 967.9L1540.4 964.9L1548.9 950.4L1550.9 947.8L1552.9 945.9L1554.8 944.4L1556.8 943.5L1562.3 942.3L1564.3 941.6L1571.3 938.4L1576.3 935.8L1578.8 934.3L1580.8 932.7L1582.8 930.5L1584.3 928.4L1585.8 925.7L1587.8 920.7L1592.3 906.9L1594.8 897.4L1604.3 857.1L1606.8 848.3L1609.8 839.8L1614.8 827.9L1616.8 824.1L1618.8 821.1L1620.7 818.7L1622.7 817.1L1625.7 815.7L1628.2 815.2L1630.2 815.5L1631.7 816.1L1633.2 817.1L1635.2 819.3L1637.2 822.4L1638.7 825.2L1642.7 834.7L1646.2 844.5L1649.7 855.9L1660.2 896.3L1664.7 912.1L1667.2 919.6L1669.7 926L1672.2 931.6L1674.7 936.5L1677.2 940.5L1679.7 943.7L1682.7 946.9L1687.1 951L1693.6 956.5L1701.1 962.3L1712.6 970.8L1715.6 972.5" stroke="#c72a6c" stroke-width="2.8"/><path d="M1328.7 972.3L1331.2 971.1L1335.2 968.2L1341.2 963.1L1349.2 955.4L1351.7 953.5L1356.2 950.8L1362.6 947.3L1371.1 943.5L1374.1 942.3L1381.1 940.2L1389.6 936.9L1395.1 934.2L1399.1 931.9L1402.6 929.2L1406.6 925.5L1411.1 920.6L1414.1 916.6L1417.6 910.8L1421.1 903.6L1423.6 896.8L1426 888.5L1428.5 877.6L1434.5 845.5L1440 817.8L1442.5 806.8L1444.5 799.6L1447 792.3L1449 788.2L1450.5 785.9L1452 784.3L1453.5 783.3L1454.5 783.1L1455.5 783.2L1457 784.1L1458.5 785.7L1460 788L1461.5 791L1462.5 793.5L1464.5 800.3L1466.5 809.5L1469 823.1L1477 873.9L1480.5 893.7L1483 905.7L1485 914.1L1487.5 922.9L1489.5 928.6L1490.9 931.7L1492.9 934.3L1499.9 939.8L1506.4 945.5L1514.4 955L1524.9 966.5L1527.4 969.1L1529.9 971.2L1531.9 972.3L1533.4 972.4L1534.9 971.7L1536.4 970.3L1539.4 966.1L1547.4 952.5L1549.4 949.4L1552.4 945.8L1555.3 943.5L1556.8 942.6L1558.8 941.9L1563.8 940.9L1566.8 940.7L1573.8 940.8L1577.3 940.6L1579.8 940.1L1581.8 939.4L1583.8 938L1585.3 936.5L1586.8 934.4L1589.3 929.8L1591.8 924.4L1593.8 919.3L1596.3 911.5L1605.8 877.7L1611.8 854.8L1617.3 832.8L1620.7 821.6L1624.2 812.7L1627.7 805.5L1629.7 802.4L1631.2 800.7L1632.7 799.7L1633.7 799.5L1635.2 799.8L1636.7 800.7L1638.2 802.3L1639.7 804.6L1641.2 807.6L1642.7 811.2L1645.7 819.7L1648.2 828.7L1650.7 839.2L1660.7 886.8L1665.2 906.2L1667.2 913.5L1669.7 921.5L1672.2 928.3L1674.7 934.2L1676.7 938.1L1679.2 942.1L1681.7 945.1L1684.6 948.2L1688.6 951.6L1706.1 965.8L1713.1 971.1L1715.6 972.5" stroke="#b12178" stroke-width="2.8"/><path d="M1328.7 972.5L1330.2 971.8L1331.7 970.9L1337.7 966.1L1341.7 962.6L1347.7 956.8L1350.2 954.7L1354.7 951.7L1360.2 948.8L1367.6 945.8L1370.6 944.8L1373.1 944.2L1375.1 944.1L1381.1 944.2L1390.6 944.1L1397.6 943.6L1401.1 942.8L1403.6 941.8L1406.1 940.5L1411.1 937.2L1412.6 935.8L1414.1 934.2L1416.6 930.5L1419.6 924.9L1422.1 918.6L1424.6 910L1427 898.6L1429 886.5L1433.5 854.7L1440.5 807.5L1442.5 795.6L1445 783.5L1447.5 774L1450 767.3L1451.5 764.3L1453 762.1L1454.5 760.7L1455.5 760.4L1456.5 760.6L1458 761.7L1459.5 763.5L1461 766.2L1463 771.3L1465 779.4L1467 790.5L1469.5 807L1477 864.4L1480 884.7L1482.5 899.1L1484.5 909L1487 919.5L1489 926.3L1490.9 931.1L1492.9 934L1494.9 935.9L1503.9 942.8L1506.9 945.5L1508.9 947.7L1515.4 955.9L1525.4 967.4L1528.4 970.3L1530.4 971.8L1532.4 972.5L1533.9 972.3L1535.4 971.3L1536.9 969.6L1538.4 967.4L1547.4 952.2L1550.4 947.7L1551.9 945.9L1553.9 943.9L1555.8 942.4L1557.8 941.2L1559.8 940.4L1561.3 940.1L1563.3 940L1564.8 940.2L1567.3 941.2L1572.3 943.9L1577.3 946L1580.8 946.9L1583.3 947L1584.8 946.6L1585.8 946.1L1588.3 944.2L1591.3 940.9L1593.8 937.1L1596.8 930.7L1600.8 920.3L1603.8 911.2L1606.3 901.7L1608.8 890.2L1611.8 874.8L1616.8 845.2L1619.2 831.8L1622.7 815.5L1626.7 799.2L1629.7 789.5L1632.2 783.5L1633.2 782L1634.2 780.9L1635.2 780.3L1636.7 779.9L1638.2 780.4L1639.2 781.2L1640.2 782.5L1641.2 784.3L1642.7 787.6L1644.2 791.6L1646.7 800.1L1648.7 808.9L1651.2 821.5L1660.2 872.8L1665.2 898.7L1667.7 909.5L1670.2 918.7L1672.7 926.5L1675.2 933.1L1677.2 937.5L1679.2 941L1681.7 944.4L1684.1 947.1L1687.1 949.7L1695.6 956.4L1708.1 967.2L1713.1 971.2L1715.6 972.6" stroke="#9c1783" stroke-width="2.8"/><path d="M1328.7 972.7L1331.2 971.3L1335.7 967.7L1341.2 963L1348.2 956.4L1351.2 954L1354.7 951.8L1358.2 949.9L1361.1 948.5L1364.1 947.5L1370.6 945.9L1372.6 945.8L1374.6 946L1377.1 946.7L1398.1 954.5L1400.6 955.1L1403.1 955.3L1406.1 955L1408.6 954.5L1411.1 953.8L1412.6 953L1414.1 951.7L1415.1 950.6L1418.1 945.9L1420.6 940.5L1422.6 934.5L1425.1 924L1427 912.8L1429 897.9L1441 795.6L1443 781.1L1445 769L1447.5 756.8L1449 751.1L1450.5 746.5L1452 742.6L1453.5 739.7L1455 737.9L1456 737.4L1457 737.6L1458.5 738.7L1460 740.7L1461.5 743.5L1462.5 746.1L1463.5 749.4L1465 756.5L1467 769.1L1469.5 788L1477 854.9L1480 878.3L1482.5 894.7L1484.5 905.9L1487 917.7L1489 925.3L1490.9 930.6L1492.9 933.8L1495.9 936.6L1504.9 943.2L1507.4 945.4L1509.4 947.7L1515.4 955.6L1520.9 962L1525.4 967.7L1527.4 969.8L1529.9 971.7L1531.9 972.6L1532.9 972.7L1533.9 972.4L1535.4 971.3L1537.9 968L1547.9 951.2L1550.9 946.7L1552.9 944.3L1555.3 942L1557.8 940.2L1560.3 939.1L1561.8 938.8L1562.8 938.9L1563.8 939.2L1565.3 940L1567.3 941.7L1572.8 947.4L1579.3 953L1582.8 955.2L1584.8 956.1L1586.3 956.4L1588.8 956.6L1590.8 956.3L1592.3 955.8L1593.8 954.9L1595.3 953.5L1596.8 951.6L1599.8 946.6L1602.3 941.3L1604.3 935.7L1606.3 927.6L1608.3 917L1612.3 891.3L1617.3 851.9L1620.2 830.8L1624.7 802.6L1628.2 783.5L1630.7 772.4L1632.2 767.1L1633.2 764.4L1634.2 762.3L1635.7 760.1L1637.2 758.8L1638.2 758.5L1639.2 758.7L1640.2 759.5L1641.2 760.9L1642.7 764L1645.2 771.3L1647.2 779.5L1649.2 789.9L1651.7 804.6L1660.2 861.1L1665.2 891.2L1667.2 901.5L1669.7 912.5L1672.2 921.8L1675.2 931L1677.2 936L1679.2 939.9L1681.2 943L1683.6 946L1686.6 948.7L1695.6 955.5L1704.6 964L1709.6 968.3L1713.6 971.5L1715.6 972.7" stroke="#860e8f" stroke-width="2.8"/><path d="M1328.7 972.8L1330.2 972.1L1332.2 970.5L1341.2 962.9L1348.7 956.1L1353.2 952.8L1357.2 950.4L1360.7 948.9L1364.1 948L1368.6 947.2L1371.1 947.1L1372.6 947.2L1374.1 947.7L1375.6 948.4L1385.6 955.5L1399.6 966.6L1402.6 968.3L1406.1 969.5L1408.6 970.1L1410.6 970.3L1412.1 970.2L1413.6 969.6L1414.6 968.8L1416.1 967.1L1417.6 964.8L1419.1 962L1420.6 958.5L1421.6 955.5L1423.6 947.6L1425.5 937.1L1427.5 923L1429.5 904.3L1441 786.8L1443 769.2L1445 754.6L1447.5 739.6L1449 732.5L1450.5 726.7L1452 721.8L1453.5 717.8L1455 715.2L1455.5 714.7L1456.5 714.3L1457.5 714.5L1459 715.8L1460.5 717.9L1462 721L1463 724L1464 728.1L1465.5 736.7L1467.5 751.6L1469.5 769.1L1477 845.4L1480 871.9L1482.5 890.3L1484.5 902.8L1487 915.9L1489 924.3L1490.9 930.1L1491.9 932L1493.4 934.1L1494.9 935.6L1497.4 937.7L1500.4 939.9L1505.4 943.1L1507.9 945.4L1509.9 947.8L1515.4 955.4L1520.9 962.1L1525.4 968.1L1526.9 969.7L1529.4 971.7L1531.4 972.7L1532.4 972.8L1533.4 972.7L1534.9 971.8L1535.9 970.8L1537.4 968.6L1542.4 959.9L1548.9 949.3L1551.4 945.7L1553.9 942.8L1557.3 939.6L1559.3 938.3L1561.3 937.6L1562.3 937.7L1563.3 938L1565.3 939.6L1567.3 942.2L1572.8 950.6L1580.3 960.6L1582.8 963.5L1586.3 967L1589.3 969.9L1591.3 971.5L1592.8 972.4L1594.3 972.9L1595.8 972.9L1597.3 972.3L1598.8 971.2L1600.3 969.6L1601.8 967.5L1602.8 965.7L1603.8 963.4L1604.8 960.2L1606.3 953.5L1607.8 944.7L1609.8 930.7L1612.8 906L1617.3 861.4L1620.2 834.6L1625.2 794.2L1628.7 769.7L1631.2 755.4L1632.7 748.6L1633.7 745.1L1635.2 741.2L1636.7 738.4L1638.2 736.6L1639.2 736.2L1640.2 736.5L1641.2 737.6L1642.2 739.4L1643.2 741.7L1645.2 747.9L1647.2 756.8L1649.2 768.4L1651.7 785.1L1660.7 853L1665.7 886.8L1667.7 898.1L1670.2 910.2L1672.7 920.4L1675.2 928.9L1677.2 934.5L1679.2 938.8L1681.2 942.1L1683.6 945.3L1686.6 948.1L1692.6 952.2L1695.1 954.2L1707.6 966.5L1713.1 971.2L1715.6 972.8" stroke="#70049b" stroke-width="2.8"/><path d="M1328.7 972L1330.2 971.5L1332.2 970.4L1338.2 966L1341.7 962.8L1347.7 956.6L1350.7 954.1L1362.6 946.7L1370.1 941.8L1374.1 938.8L1377.1 936.2L1380.6 932.7L1388.1 924.3L1392.6 918.5L1396.6 912.8L1401.1 905.7L1405.1 898.8L1426 858.1L1434.5 840.6L1437 836.1L1440 831.9L1443.5 828.1L1445 826.9L1446.5 825.9L1448 825.4L1449 825.2L1450.5 825.4L1452.5 826.3L1454 827.5L1456 829.4L1458 831.9L1459.5 834.3L1462 839.6L1464.5 846.8L1468 858.5L1478 896.6L1482 910.7L1484.5 918.3L1486.5 923.7L1488.5 928.3L1489.9 931.2L1491.4 933.4L1492.9 934.9L1497.9 938.3L1502.4 942.4L1505.9 946.1L1513.4 954.6L1529.4 970.3L1530.9 971.4L1532.4 972.1L1533.4 972.1L1534.9 971.6L1536.9 969.9L1539.4 966.8L1541.9 962.7L1547.9 952.2L1549.4 949.9L1550.9 948.1L1552.9 946.4L1555.3 944.9L1557.3 944.3L1561.8 943.6L1563.3 943L1564.8 941.9L1570.8 936.3L1577.8 929.3L1580.8 925.5L1583.3 921.4L1585.3 916.8L1586.8 912.3L1591.3 895L1594.3 881.1L1602.3 839.8L1603.8 832.9L1605.3 827.1L1607.3 821.5L1608.3 819.5L1609.8 817.1L1611.3 815.3L1612.8 814L1613.8 813.5L1615.3 813.3L1617.3 813.7L1619.7 815L1621.2 816.2L1623.2 818.5L1626.2 822.7L1629.2 827.4L1632.2 832.8L1634.7 837.8L1638.2 846.1L1649.2 875.6L1658.7 903.7L1663.7 917.6L1665.7 922.3L1668.2 927.6L1670.7 932.3L1673.2 936.5L1676.2 940.8L1679.7 944.7L1692.6 956.6L1699.6 961.8L1713.1 971.1L1715.6 972.4" stroke="#dd3460" stroke-width="3.5"/></g>
<rect x="1328.7" y="659.4" width="386.9" height="365.5" fill="none" stroke="#262626" stroke-width="1.3"/><path d="M1328.7 1024.9V1020.4M1328.7 659.4V663.9" stroke="#262626" stroke-width="1.2"/><path d="M1522.2 1024.9V1020.4M1522.2 659.4V663.9" stroke="#262626" stroke-width="1.2"/><path d="M1715.6 1024.9V1020.4M1715.6 659.4V663.9" stroke="#262626" stroke-width="1.2"/><path d="M1328.7 711.9H1333.2M1715.6 711.9H1711.1" stroke="#262626" stroke-width="1.2"/><path d="M1328.7 842.4H1333.2M1715.6 842.4H1711.1" stroke="#262626" stroke-width="1.2"/><path d="M1328.7 972.8H1333.2M1715.6 972.8H1711.1" stroke="#262626" stroke-width="1.2"/><path d="M1328.7 1025H1333.2M1715.6 1025H1711.1" stroke="#262626" stroke-width="1.2"/>
<text x="527.8" y="645.2" font-size="26.4" text-anchor="middle" fill="#262626" textLength="130" lengthAdjust="spacingAndGlyphs">Work loop:</text>
<text x="1021.5" y="645.5" font-size="26.4" text-anchor="middle" fill="#262626" textLength="178" lengthAdjust="spacingAndGlyphs">Drive moment:</text>
<text x="1522" y="645" font-size="26.4" text-anchor="middle" fill="#262626" textLength="151" lengthAdjust="spacingAndGlyphs">Drive power:</text>
<text x="323.3" y="666.3" font-size="24" text-anchor="end" fill="#262626">40</text>
<text x="818.2" y="666.3" font-size="24" text-anchor="end" fill="#262626">40</text>
<text x="323.3" y="849" font-size="24" text-anchor="end" fill="#262626">0</text>
<text x="818.2" y="849" font-size="24" text-anchor="end" fill="#262626">0</text>
<text x="323.3" y="1031.7" font-size="24" text-anchor="end" fill="#262626">-40</text>
<text x="818.2" y="1031.7" font-size="24" text-anchor="end" fill="#262626">-40</text>
<text x="1318.2" y="718.4" font-size="24" text-anchor="end" fill="#262626">50</text>
<text x="1318.2" y="848.9" font-size="24" text-anchor="end" fill="#262626">25</text>
<text x="1318.2" y="979.3" font-size="24" text-anchor="end" fill="#262626">0</text>
<text x="1318.2" y="1031.5" font-size="24" text-anchor="end" fill="#262626">-10</text>
<text x="333.2" y="1055.7" font-size="24" text-anchor="middle" fill="#262626">0</text>
<text x="507.4" y="1055.7" font-size="24" text-anchor="middle" fill="#262626">90</text>
<text x="681.6" y="1055.7" font-size="24" text-anchor="middle" fill="#262626">180</text>
<text x="827.6" y="1055.7" font-size="24" text-anchor="middle" fill="#262626">0</text>
<text x="1021.3" y="1055.7" font-size="24" text-anchor="middle" fill="#262626">0.5</text>
<text x="1215" y="1055.7" font-size="24" text-anchor="middle" fill="#262626">1</text>
<text x="1328.7" y="1055.7" font-size="24" text-anchor="middle" fill="#262626">0</text>
<text x="1522.2" y="1055.7" font-size="24" text-anchor="middle" fill="#262626">0.5</text>
<text x="1715.6" y="1055.7" font-size="24" text-anchor="middle" fill="#262626">1</text>
<text x="526.2" y="1089.1" font-size="26.4" text-anchor="middle" fill="#262626" textLength="213" lengthAdjust="spacingAndGlyphs">Stroke angle <tspan font-style="italic">ϕ</tspan> (°)</text>
<text x="1021.8" y="1089.1" font-size="26.4" text-anchor="middle" fill="#262626" textLength="143" lengthAdjust="spacingAndGlyphs">Stroke cycle</text>
<text x="1522" y="1089.1" font-size="26.4" text-anchor="middle" fill="#262626" textLength="143" lengthAdjust="spacingAndGlyphs">Stroke cycle</text>
<text x="292" y="842.8" font-size="26.4" text-anchor="middle" fill="#262626" transform="rotate(-90 292 842.8)" textLength="183" lengthAdjust="spacingAndGlyphs">Moment (nNm)</text>
<text x="787" y="843.3" font-size="26.4" text-anchor="middle" fill="#262626" transform="rotate(-90 787 843.3)" textLength="183" lengthAdjust="spacingAndGlyphs">Moment (nNm)</text>
<text x="1276" y="842.7" font-size="26.4" text-anchor="middle" fill="#262626" transform="rotate(-90 1276 842.7)" textLength="144" lengthAdjust="spacingAndGlyphs">Power (<tspan font-style="italic">μ</tspan>W)</text>
<text x="858" y="186" font-size="26.4" text-anchor="start" fill="#262626" textLength="139" lengthAdjust="spacingAndGlyphs">Downstroke</text>
<text x="1065.2" y="502.4" font-size="26.4" text-anchor="start" fill="#262626" textLength="104" lengthAdjust="spacingAndGlyphs">Upstroke</text>
<rect x="333.2" y="4.5" width="387.3" height="102.5" fill="#fff" stroke="#444" stroke-width="1.2"/>
<path d="M359.4 24.9H421.4" stroke="#0e639a" stroke-width="4"/>
<path d="M359.4 56H421.4" stroke="#dd3460" stroke-width="4"/>
<path d="M359.4 87.1H392.4" stroke="#70049b" stroke-width="4"/><path d="M392.4 87.1H421.4" stroke="#f5b4cd" stroke-width="4"/>
<text x="429.6" y="31.1" font-size="24" text-anchor="start" fill="#262626" textLength="260" lengthAdjust="spacingAndGlyphs">Total (inelastic) moment</text>
<text x="432.2" y="62.4" font-size="24" text-anchor="start" fill="#262626" textLength="235" lengthAdjust="spacingAndGlyphs">Midline elasticity × <tspan fill="#555">−1</tspan></text>
<text x="432.2" y="92.8" font-size="24" text-anchor="start" fill="#262626" textLength="262" lengthAdjust="spacingAndGlyphs">Modified elasticities × <tspan fill="#555">−1</tspan></text>
<rect x="827.6" y="35.3" width="387.6" height="71.5" fill="#fff" stroke="#444" stroke-width="1.2"/>
<path d="M854 57H887.2" stroke="#70049b" stroke-width="4"/><path d="M887.2 57H915.3" stroke="#f5b4cd" stroke-width="4"/>
<text x="926.4" y="64.5" font-size="24" text-anchor="start" fill="#262626" textLength="229" lengthAdjust="spacingAndGlyphs">Resultant load/power</text>
<text x="926.4" y="91" font-size="24" text-anchor="start" fill="#262626" textLength="261" lengthAdjust="spacingAndGlyphs">under modified elasticity</text>
<text x="567.5" y="187.4" font-size="26.4" text-anchor="middle" fill="#8a8a8a" textLength="112.6" lengthAdjust="spacingAndGlyphs">alteration</text>
<text x="567.5" y="211.5" font-size="26.4" text-anchor="middle" fill="#8a8a8a" textLength="47.2" lengthAdjust="spacingAndGlyphs">sign</text>
<path d="M494.9 435.8L549.6 236.5" stroke="#8a8a8a" stroke-width="1.6"/><path d="M492.3 445.4L490.5 427.3L503.1 430.7Z" fill="#8a8a8a"/><path d="M552.2 226.9L554 245L541.4 241.6Z" fill="#8a8a8a"/>
<text x="572.8" y="249.5" font-size="40" text-anchor="middle" fill="#8a8a8a">+</text>
<text x="469.5" y="450" font-size="40" text-anchor="middle" fill="#8a8a8a">−</text>
<path d="M574.8 956.3L582.9 738.3" stroke="#8a8a8a" stroke-width="1.6"/><path d="M574.4 966.3L568.5 949.1L581.5 949.6Z" fill="#8a8a8a"/><path d="M583.3 728.3L589.2 745.5L576.2 745Z" fill="#8a8a8a"/>
<text x="563.3" y="747" font-size="40" text-anchor="middle" fill="#8a8a8a">+</text>
<text x="551.5" y="969.5" font-size="40" text-anchor="middle" fill="#8a8a8a">−</text>
<path d="M1477 292.6Q1528.5 251 1584.4 293.4" fill="none" stroke="#222" stroke-width="1.9"/><path d="M1477 292.6L1487.1 274.8L1488.8 283L1496.5 286.5Z" fill="#222"/><path d="M1584.4 293.4L1564.7 287.9L1572.3 284.2L1573.8 275.9Z" fill="#222"/>
<rect x="1490.2" y="175.9" width="78.8" height="88.6" rx="13" fill="#fff" stroke="#222" stroke-width="1.3"/>
<text x="1529.6" y="195.6" font-size="20.5" text-anchor="middle" fill="#222">Work</text>
<text x="1529.6" y="216.2" font-size="20.5" text-anchor="middle" fill="#222">transfer</text>
<text x="1529.6" y="236.8" font-size="20.5" text-anchor="middle" fill="#222">between</text>
<text x="1529.6" y="257.4" font-size="20.5" text-anchor="middle" fill="#222">strokes</text>
<path d="M1388.2 793.9Q1439.8 752.3 1495.3 793" fill="none" stroke="#222" stroke-width="1.9"/><path d="M1388.2 793.9L1398.3 776.1L1400 784.4L1407.7 787.8Z" fill="#222"/><path d="M1495.3 793L1475.5 787.8L1483 784L1484.4 775.7Z" fill="#222"/>
<path d="M1569 793.9Q1618.6 751.5 1676.1 793" fill="none" stroke="#222" stroke-width="1.9"/><path d="M1569 793.9L1578.6 775.9L1580.6 784L1588.3 787.3Z" fill="#222"/><path d="M1676.1 793L1656.3 788L1663.8 784.1L1665.1 775.8Z" fill="#222"/>
<rect x="1489.6" y="668.6" width="82.2" height="114.8" rx="13" fill="#fff" stroke="#222" stroke-width="1.3"/>
<text x="1530.7" y="691.6" font-size="20.5" text-anchor="middle" fill="#222">Work</text>
<text x="1530.7" y="712.3" font-size="20.5" text-anchor="middle" fill="#222">transfer</text>
<text x="1530.7" y="733" font-size="20.5" text-anchor="middle" fill="#222">between</text>
<text x="1530.7" y="753.7" font-size="20.5" text-anchor="middle" fill="#222">quarter</text>
<text x="1530.7" y="774.4" font-size="20.5" text-anchor="middle" fill="#222">strokes</text>
<circle cx="250.9" cy="184.9" r="31.6" fill="#fff" stroke="#111" stroke-width="2.2"/>
<text x="250.9" y="201" font-size="48" text-anchor="middle" fill="#111">A</text>
<circle cx="251.2" cy="993.5" r="31.6" fill="#fff" stroke="#111" stroke-width="2.2"/>
<text x="251.2" y="1009.5" font-size="48" text-anchor="middle" fill="#111">B</text>
<path d="M164.5 396.2V332.4H250" fill="none" stroke="#222" stroke-width="3"/>
<path d="M262.8 332.4L246.5 326.6L246.5 338.2Z" fill="#222"/>
<path d="M164.5 473.8V483" stroke="#222" stroke-width="2.6"/>
<path d="M192.9 658V839.7H250" fill="none" stroke="#222" stroke-width="2.6" stroke-dasharray="6 4"/>
<path d="M262.8 839.7L246.5 833.9L246.5 845.5Z" fill="#222"/>
<path d="M163.5 488V652.3M63.3 570.1H263.7" stroke="#dedede" stroke-width="1"/>
<path d="M63.3 570.1L66 570L69.3 569.4L72.7 568.4L76 566.9L79.3 565.1L82.7 562.8L86 560.2L89.4 557.2L95.4 551.1L101.4 544.2L121.4 518.9L128.8 510L135.4 502.9L141.5 497.4L144.8 494.9L147.5 493.1L152.8 490.3L155.5 489.3L158.2 488.6L160.8 488.1L163.5 488L166.2 488.1L169.5 488.7L172.9 489.8L176.2 491.2L179.5 493.1L182.9 495.3L186.2 498L189.6 501L195.6 507.1L201.6 514L221.6 539.3L229 548.1L235.6 555.3L241.7 560.7L245 563.3L247.7 565.1L253 567.9L255.7 568.9L258.4 569.6L261 570L263.7 570.1" fill="none" stroke="#111" stroke-width="2.6"/>
<path d="M63.3 570.1L70.6 570L77.3 569.7L82 568.8L87.3 567.2L89.4 566.2L92 564.1L96.7 559.8L99.4 556.9L101.4 554.2L103.4 551L108.7 540.2L114.7 526.2L125.4 497.5L129.4 489.7L130.8 488.2L131.4 488L132.8 488.3L134.8 489.4L137.4 491.7L138.8 493.3L141.5 498.4L145.5 507.7L150.1 521.3L154.1 534.7L159.5 554.2L169.5 593.6L174.2 610.3L177.5 621.1L182.2 634.4L186.9 644.7L188.9 647.9L190.9 649.8L192.9 651.4L194.9 652.2L195.6 652.3L196.2 652.1L197.6 650.6L198.9 648.2L202.2 641.1L211.6 615.8L216.9 603L223.6 589.3L225.6 586.1L228.3 582.6L231 579.8L235 576.2L237.6 574.1L239.7 573.1L245 571.5L249.7 570.6L256.4 570.3L263.7 570.1" fill="none" stroke="#111" stroke-width="2.6" stroke-dasharray="6 4.5"/>
<rect x="63.3" y="488" width="200.4" height="164.3" fill="none" stroke="#262626" stroke-width="1.3"/>
<circle cx="222.3" cy="529.9" r="15.5" fill="#fff" stroke="#111" stroke-width="1.6"/>
<text x="222.3" y="537.5" font-size="21" text-anchor="middle" fill="#111">A</text>
<circle cx="222" cy="603" r="15.5" fill="#fff" stroke="#111" stroke-width="1.6"/>
<text x="222" y="610.6" font-size="21" text-anchor="middle" fill="#111">B</text>
<text x="52.1" y="500" font-size="24" text-anchor="end" fill="#262626">1</text>
<text x="52.1" y="577.5" font-size="24" text-anchor="end" fill="#262626">0</text>
<text x="52.1" y="657.8" font-size="24" text-anchor="end" fill="#262626">-1</text>
<text x="82.3" y="680" font-size="24" text-anchor="middle" fill="#262626" textLength="69.5" lengthAdjust="spacingAndGlyphs">min(<tspan font-style="italic">ϕ</tspan>)</text>
<text x="162" y="680" font-size="24" text-anchor="middle" fill="#262626"><tspan font-style="italic">ϕ</tspan></text>
<text x="253.3" y="680" font-size="24" text-anchor="middle" fill="#262626" textLength="73.7" lengthAdjust="spacingAndGlyphs">max(<tspan font-style="italic">ϕ</tspan>)</text>
<text x="22.5" y="570" font-size="26.4" text-anchor="middle" fill="#262626" transform="rotate(-90 22.5 570)" textLength="118.7" lengthAdjust="spacingAndGlyphs">Amplitude</text>
<text x="165" y="418.5" font-size="26.4" text-anchor="middle" fill="#262626" textLength="78" lengthAdjust="spacingAndGlyphs">Elastic</text>
<text x="165" y="442.4" font-size="26.4" text-anchor="middle" fill="#262626" textLength="110" lengthAdjust="spacingAndGlyphs">alteration</text>
<text x="164.8" y="466.7" font-size="26.4" text-anchor="middle" fill="#262626" textLength="141.5" lengthAdjust="spacingAndGlyphs">normal form</text>
</svg></body></html>
